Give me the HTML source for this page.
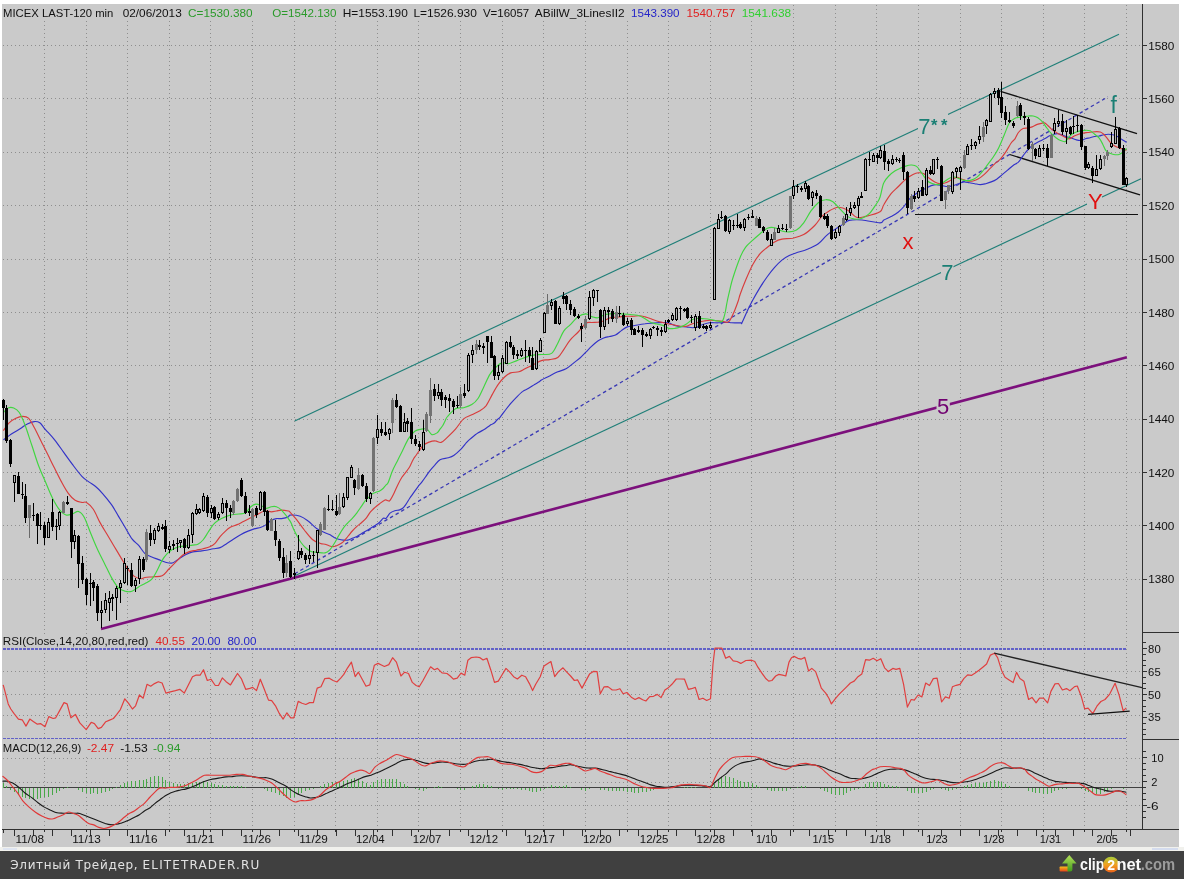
<!DOCTYPE html><html><head><meta charset="utf-8"><title>MICEX LAST-120 min</title><style>
html,body{margin:0;padding:0;background:#fff;overflow:hidden;width:1184px;height:879px}
svg{position:absolute;left:0;top:0;display:block}
text{font-family:"Liberation Sans",Arial,sans-serif;font-size:11px}
.ft{font-family:"DejaVu Sans","Liberation Sans",sans-serif}
</style></head><body>
<svg width="1184" height="879" viewBox="0 0 1184 879">
<rect x="0" y="0" width="1184" height="879" fill="#fff"/>
<rect x="2" y="4" width="1177" height="843" fill="#cacaca"/>
<g shape-rendering="crispEdges" stroke="#8e8e8e" stroke-width="1" stroke-dasharray="1 3" fill="none">
<line x1="44.5" y1="5" x2="44.5" y2="829"/>
<line x1="86.5" y1="5" x2="86.5" y2="829"/>
<line x1="127.5" y1="5" x2="127.5" y2="829"/>
<line x1="169.5" y1="5" x2="169.5" y2="829"/>
<line x1="210.5" y1="5" x2="210.5" y2="829"/>
<line x1="252.5" y1="5" x2="252.5" y2="829"/>
<line x1="294.5" y1="5" x2="294.5" y2="829"/>
<line x1="335.5" y1="5" x2="335.5" y2="829"/>
<line x1="377.5" y1="5" x2="377.5" y2="829"/>
<line x1="418.5" y1="5" x2="418.5" y2="829"/>
<line x1="460.5" y1="5" x2="460.5" y2="829"/>
<line x1="502.5" y1="5" x2="502.5" y2="829"/>
<line x1="543.5" y1="5" x2="543.5" y2="829"/>
<line x1="585.5" y1="5" x2="585.5" y2="829"/>
<line x1="627.5" y1="5" x2="627.5" y2="829"/>
<line x1="668.5" y1="5" x2="668.5" y2="829"/>
<line x1="710.5" y1="5" x2="710.5" y2="829"/>
<line x1="751.5" y1="5" x2="751.5" y2="829"/>
<line x1="793.5" y1="5" x2="793.5" y2="829"/>
<line x1="835.5" y1="5" x2="835.5" y2="829"/>
<line x1="876.5" y1="5" x2="876.5" y2="829"/>
<line x1="918.5" y1="5" x2="918.5" y2="829"/>
<line x1="960.5" y1="5" x2="960.5" y2="829"/>
<line x1="1001.5" y1="5" x2="1001.5" y2="829"/>
<line x1="1043.5" y1="5" x2="1043.5" y2="829"/>
<line x1="1084.5" y1="5" x2="1084.5" y2="829"/>
<line x1="1126.5" y1="5" x2="1126.5" y2="829"/>
<line x1="3" y1="45.5" x2="1142" y2="45.5"/>
<line x1="3" y1="98.5" x2="1142" y2="98.5"/>
<line x1="3" y1="152.5" x2="1142" y2="152.5"/>
<line x1="3" y1="205.5" x2="1142" y2="205.5"/>
<line x1="3" y1="259.5" x2="1142" y2="259.5"/>
<line x1="3" y1="312.5" x2="1142" y2="312.5"/>
<line x1="3" y1="365.5" x2="1142" y2="365.5"/>
<line x1="3" y1="419.5" x2="1142" y2="419.5"/>
<line x1="3" y1="472.5" x2="1142" y2="472.5"/>
<line x1="3" y1="525.5" x2="1142" y2="525.5"/>
<line x1="3" y1="579.5" x2="1142" y2="579.5"/>
<line x1="3" y1="671.5" x2="1142" y2="671.5"/>
<line x1="3" y1="694.5" x2="1142" y2="694.5"/>
<line x1="3" y1="715.5" x2="1142" y2="715.5"/>
<line x1="3" y1="758.5" x2="1142" y2="758.5"/>
<line x1="3" y1="782.5" x2="1142" y2="782.5"/>
<line x1="3" y1="805.5" x2="1142" y2="805.5"/>
</g>
<g shape-rendering="crispEdges" stroke="#6262c8" stroke-width="1.8" stroke-dasharray="3 1" fill="none">
<line x1="3" y1="649" x2="1127" y2="649"/>
<line x1="3" y1="738.5" x2="1127" y2="738.5"/>
</g>
<line x1="3" y1="787.5" x2="1142" y2="787.5" stroke="#404040" stroke-width="1.6" shape-rendering="crispEdges"/>
<path d="M3.5 787.5V782.9M6.5 787.5V786.2M10.5 787.5V789.5M14.5 787.5V792.3M18.5 787.5V794.5M22.5 787.5V796.9M25.5 787.5V797.8M29.5 787.5V798.8M33.5 787.5V799.1M37.5 787.5V798.7M40.5 787.5V798.2M44.5 787.5V797.4M48.5 787.5V796.9M52.5 787.5V795.3M56.5 787.5V792.7M59.5 787.5V790.6M63.5 787.5V788.9M67.5 787.5V786.8M74.5 787.5V788.4M78.5 787.5V789.6M82.5 787.5V791.8M86.5 787.5V793.3M90.5 787.5V793.8M93.5 787.5V793.3M97.5 787.5V793.7M101.5 787.5V793.4M105.5 787.5V792.3M109.5 787.5V790.6M112.5 787.5V788.7M116.5 787.5V786.6M120.5 787.5V784.8M124.5 787.5V782.8M127.5 787.5V781.5M131.5 787.5V781.2M135.5 787.5V780.9M139.5 787.5V779.9M143.5 787.5V779.8M146.5 787.5V778.5M150.5 787.5V776.7M154.5 787.5V776.2M158.5 787.5V775.8M162.5 787.5V777.4M165.5 787.5V780.1M169.5 787.5V781.5M173.5 787.5V782.9M177.5 787.5V783.9M180.5 787.5V784.3M184.5 787.5V784.0M188.5 787.5V783.4M192.5 787.5V782.9M196.5 787.5V782.4M199.5 787.5V781.9M203.5 787.5V781.3M207.5 787.5V782.1M211.5 787.5V783.3M214.5 787.5V783.9M218.5 787.5V784.6M222.5 787.5V785.2M226.5 787.5V785.8M230.5 787.5V785.9M233.5 787.5V785.9M237.5 787.5V786.0M241.5 787.5V786.1M245.5 787.5V786.6M260.5 787.5V788.2M264.5 787.5V789.4M267.5 787.5V790.6M271.5 787.5V791.5M275.5 787.5V792.9M279.5 787.5V794.7M283.5 787.5V796.4M286.5 787.5V797.7M290.5 787.5V797.6M294.5 787.5V797.1M298.5 787.5V794.6M301.5 787.5V792.6M305.5 787.5V791.3M309.5 787.5V789.9M313.5 787.5V788.7M320.5 787.5V785.9M324.5 787.5V784.1M328.5 787.5V783.1M332.5 787.5V782.4M336.5 787.5V781.8M339.5 787.5V781.6M343.5 787.5V780.8M347.5 787.5V779.7M351.5 787.5V778.6M354.5 787.5V778.4M358.5 787.5V779.0M362.5 787.5V780.5M366.5 787.5V782.9M370.5 787.5V785.2M373.5 787.5V781.9M377.5 787.5V780.2M381.5 787.5V779.3M385.5 787.5V779.3M389.5 787.5V778.9M392.5 787.5V778.6M396.5 787.5V778.7M400.5 787.5V781.6M404.5 787.5V784.0M407.5 787.5V785.8M415.5 787.5V788.7M419.5 787.5V789.9M423.5 787.5V790.6M426.5 787.5V789.4M434.5 787.5V786.7M438.5 787.5V786.3M441.5 787.5V786.5M453.5 787.5V788.4M457.5 787.5V789.3M460.5 787.5V789.7M464.5 787.5V789.6M472.5 787.5V785.9M476.5 787.5V784.9M479.5 787.5V784.4M483.5 787.5V784.4M487.5 787.5V784.5M491.5 787.5V786.2M498.5 787.5V789.1M502.5 787.5V789.6M506.5 787.5V789.4M510.5 787.5V789.2M513.5 787.5V789.0M517.5 787.5V789.2M521.5 787.5V789.7M525.5 787.5V789.9M529.5 787.5V791.0M532.5 787.5V791.9M536.5 787.5V791.9M540.5 787.5V790.7M544.5 787.5V788.9M547.5 787.5V786.6M551.5 787.5V785.4M555.5 787.5V786.4M559.5 787.5V786.1M563.5 787.5V785.7M566.5 787.5V785.4M570.5 787.5V786.8M578.5 787.5V788.3M581.5 787.5V789.7M585.5 787.5V790.5M589.5 787.5V789.3M593.5 787.5V788.3M597.5 787.5V788.4M600.5 787.5V789.5M604.5 787.5V790.0M608.5 787.5V790.5M612.5 787.5V790.9M616.5 787.5V791.3M619.5 787.5V791.3M623.5 787.5V791.3M627.5 787.5V791.5M631.5 787.5V792.0M634.5 787.5V792.5M638.5 787.5V792.6M642.5 787.5V792.4M646.5 787.5V791.8M650.5 787.5V790.9M653.5 787.5V790.1M657.5 787.5V789.4M661.5 787.5V788.9M665.5 787.5V788.4M668.5 787.5V788.4M672.5 787.5V788.2M684.5 787.5V786.8M687.5 787.5V786.7M691.5 787.5V786.7M695.5 787.5V786.9M714.5 787.5V783.6M718.5 787.5V779.3M721.5 787.5V777.3M725.5 787.5V776.1M729.5 787.5V776.6M733.5 787.5V777.9M737.5 787.5V779.5M740.5 787.5V780.9M744.5 787.5V781.7M748.5 787.5V782.4M752.5 787.5V783.3M756.5 787.5V784.6M759.5 787.5V786.6M767.5 787.5V789.5M771.5 787.5V790.8M774.5 787.5V790.9M778.5 787.5V791.0M782.5 787.5V791.0M786.5 787.5V790.9M790.5 787.5V788.8M797.5 787.5V786.6M801.5 787.5V785.9M805.5 787.5V786.0M820.5 787.5V788.9M824.5 787.5V790.6M827.5 787.5V792.4M831.5 787.5V794.1M835.5 787.5V795.1M839.5 787.5V795.3M843.5 787.5V794.6M846.5 787.5V793.0M850.5 787.5V791.4M854.5 787.5V790.2M858.5 787.5V788.6M861.5 787.5V786.9M865.5 787.5V784.2M869.5 787.5V782.3M873.5 787.5V781.6M877.5 787.5V782.0M880.5 787.5V782.3M884.5 787.5V783.5M888.5 787.5V784.5M892.5 787.5V785.5M896.5 787.5V786.3M899.5 787.5V786.7M907.5 787.5V790.8M911.5 787.5V792.5M914.5 787.5V793.2M918.5 787.5V793.3M922.5 787.5V793.2M926.5 787.5V791.8M930.5 787.5V790.4M933.5 787.5V789.0M941.5 787.5V789.1M945.5 787.5V790.4M948.5 787.5V790.7M952.5 787.5V789.8M956.5 787.5V788.7M964.5 787.5V785.8M967.5 787.5V784.5M971.5 787.5V783.6M975.5 787.5V783.3M979.5 787.5V782.9M983.5 787.5V782.5M986.5 787.5V781.8M990.5 787.5V780.5M994.5 787.5V780.2M998.5 787.5V780.7M1001.5 787.5V782.1M1005.5 787.5V783.9M1009.5 787.5V785.8M1028.5 787.5V790.9M1032.5 787.5V792.1M1035.5 787.5V793.1M1039.5 787.5V793.3M1043.5 787.5V794.0M1047.5 787.5V794.4M1051.5 787.5V792.9M1054.5 787.5V790.8M1058.5 787.5V789.9M1062.5 787.5V789.2M1066.5 787.5V788.6M1081.5 787.5V789.1M1085.5 787.5V790.7M1088.5 787.5V791.8M1092.5 787.5V793.2M1096.5 787.5V794.2M1100.5 787.5V793.6M1104.5 787.5V792.4M1107.5 787.5V790.7M1111.5 787.5V789.0M1123.5 787.5V788.6" stroke="#48a848" stroke-width="1" fill="none" shape-rendering="crispEdges"/>
<g fill="none" stroke-linecap="butt">
<line x1="294.7" y1="421" x2="1119" y2="34.2" stroke="#1f7f78" stroke-width="1.15"/>
<line x1="294.3" y1="576" x2="1141" y2="178.7" stroke="#1f7f78" stroke-width="1.15"/>
<line x1="294.7" y1="573.8" x2="1107.9" y2="96.8" stroke="#3838b4" stroke-width="1.3" stroke-dasharray="3.5 3"/>
<line x1="101" y1="628.9" x2="1126.9" y2="357.2" stroke="#7c107c" stroke-width="2.6"/>
<line x1="1000.5" y1="91.3" x2="1137" y2="133.6" stroke="#111" stroke-width="1.3"/>
<line x1="1009.7" y1="154.5" x2="1140" y2="194.8" stroke="#111" stroke-width="1.3"/>
<line x1="914.6" y1="214.5" x2="1137.5" y2="214.5" stroke="#111" stroke-width="1.3" shape-rendering="crispEdges"/>
</g>
<g fill="none" stroke-width="1.15" stroke-linejoin="round">
<path d="M3.4,439.8C4.7,438.9 8.6,436.0 11.4,434.1C14.2,432.2 17.9,430.2 20.5,428.5C23.1,426.8 25.0,425.0 27.3,423.9C29.6,422.8 32.0,421.8 34.1,421.6C36.2,421.4 37.9,421.5 39.8,422.8C41.7,424.1 43.0,426.8 45.5,429.6C48.0,432.4 51.6,436.0 54.6,439.8C57.6,443.6 60.7,448.2 63.7,452.4C66.7,456.6 69.8,460.9 72.8,464.9C75.8,468.9 79.2,473.5 81.9,476.3C84.6,479.1 86.5,480.2 88.8,481.9C91.1,483.6 93.3,484.6 95.6,486.5C97.9,488.4 99.8,490.3 102.4,493.3C105.1,496.3 108.8,500.9 111.5,504.7C114.2,508.5 116.1,512.3 118.4,516.1C120.7,519.9 122.9,523.7 125.2,527.5C127.5,531.3 129.7,535.9 132.0,538.9C134.3,541.9 136.7,543.2 138.9,545.7C141.1,548.2 142.8,551.7 145.0,553.6C147.2,555.5 149.5,556.0 151.8,557.0C154.1,558.0 156.4,558.7 158.7,559.6C161.0,560.5 163.2,561.6 165.5,562.2C167.8,562.8 170.0,563.6 172.3,563.0C174.6,562.4 176.8,560.1 179.1,558.7C181.4,557.3 183.7,555.6 186.0,554.5C188.3,553.4 190.5,552.5 192.8,551.9C195.1,551.3 197.3,551.4 199.6,551.1C201.9,550.8 204.1,550.6 206.4,550.2C208.7,549.8 211.0,549.2 213.3,548.8C215.6,548.4 217.8,548.5 220.1,547.6C222.4,546.7 224.6,544.8 226.9,543.4C229.2,542.0 231.4,540.5 233.7,539.1C236.0,537.7 238.3,536.1 240.6,534.8C242.9,533.5 245.1,532.4 247.4,531.4C249.7,530.4 251.9,529.6 254.2,528.9C256.5,528.2 259.0,527.9 261.0,527.2C263.0,526.5 264.5,525.8 266.2,524.6C267.9,523.5 269.6,521.3 271.3,520.3C273.0,519.3 274.7,518.9 276.4,518.6C278.1,518.3 279.5,518.9 281.5,518.6C283.5,518.3 286.9,517.5 288.3,516.9C289.7,516.3 288.0,515.2 290.0,515.1C292.0,515.0 297.1,515.2 300.2,516.2C303.3,517.2 305.7,519.2 308.4,521.3C311.1,523.3 313.8,526.6 316.6,528.5C319.4,530.4 322.8,531.8 325.0,532.8C327.2,533.8 328.1,533.8 329.6,534.6C331.1,535.4 332.6,536.6 334.1,537.4C335.6,538.2 337.2,538.8 338.7,539.2C340.2,539.7 341.7,540.0 343.2,540.1C344.7,540.2 346.3,540.4 347.8,540.1C349.3,539.8 350.8,538.9 352.3,538.3C353.8,537.7 355.4,537.3 356.9,536.5C358.4,535.7 359.9,534.6 361.4,533.7C362.9,532.8 364.5,531.9 366.0,531.0C367.5,530.1 369.0,529.2 370.5,528.3C372.0,527.4 373.6,526.5 375.1,525.5C376.6,524.5 378.2,523.5 379.6,522.3C381.0,521.1 382.2,519.0 383.3,518.3C384.4,517.6 385.1,519.1 386.2,518.2C387.3,517.3 388.6,514.4 390.0,513.1C391.4,511.9 393.2,511.2 394.8,510.7C396.4,510.2 398.3,510.3 399.6,509.9C400.9,509.5 401.6,509.2 402.7,508.3C403.8,507.4 404.7,506.1 405.9,504.4C407.1,502.7 408.6,500.0 409.9,498.0C411.2,496.0 412.6,494.3 413.9,492.4C415.2,490.5 416.6,488.5 417.9,486.8C419.2,485.1 420.5,483.8 421.8,482.1C423.1,480.4 424.5,478.4 425.8,476.5C427.1,474.6 428.3,472.8 429.8,470.9C431.3,469.0 432.9,467.2 434.6,465.4C436.3,463.5 437.7,461.1 440.0,459.8C442.3,458.5 445.9,458.5 448.2,457.8C450.5,457.1 451.6,456.9 453.7,455.5C455.8,454.1 458.9,451.2 461.0,449.1C463.1,447.0 464.9,444.4 466.4,442.7C467.9,441.0 468.0,440.8 470.0,439.1C472.0,437.5 475.8,434.4 478.2,432.8C480.6,431.2 482.6,430.5 484.1,429.6C485.6,428.7 486.1,428.1 487.3,427.3C488.5,426.5 490.0,425.4 491.2,424.6C492.4,423.9 493.6,423.7 494.6,422.8C495.6,421.9 496.5,420.4 497.4,419.5C498.3,418.6 498.6,418.9 500.0,417.3C501.4,415.7 503.7,412.4 505.5,410.0C507.3,407.6 509.2,405.3 511.0,403.2C512.8,401.1 514.4,399.3 516.4,397.3C518.4,395.3 520.8,392.8 522.8,391.4C524.8,389.9 526.2,389.8 528.2,388.6C530.2,387.5 532.8,385.6 534.6,384.5C536.4,383.4 538.1,382.6 539.2,381.8C540.3,381.1 539.7,381.0 541.4,380.0C543.1,379.0 546.9,377.3 549.6,375.9C552.3,374.5 555.1,373.0 557.8,371.8C560.5,370.6 563.3,370.3 566.0,368.8C568.7,367.3 571.8,364.4 574.1,362.6C576.4,360.8 578.0,359.8 580.0,358.0C582.0,356.2 583.9,354.1 585.9,352.1C587.9,350.1 589.8,348.1 591.8,346.2C593.8,344.3 595.8,342.4 597.8,341.0C599.8,339.6 601.7,338.8 603.7,338.0C605.7,337.2 607.6,337.0 609.6,336.5C611.6,336.0 613.5,336.1 615.5,335.1C617.5,334.1 619.4,332.0 621.4,330.6C623.4,329.2 625.3,327.7 627.3,326.9C629.3,326.1 631.3,326.1 633.3,325.7C635.3,325.3 637.2,325.0 639.2,324.7C641.2,324.4 643.1,323.9 645.1,323.7C647.1,323.4 649.0,323.3 651.0,323.2C653.0,323.1 654.9,322.9 656.9,322.8C658.9,322.7 660.8,322.5 662.8,322.5C664.8,322.5 666.8,322.3 668.8,322.8C670.8,323.3 672.7,324.8 674.7,325.4C676.7,326.0 678.6,326.4 680.6,326.6C682.6,326.9 684.5,326.7 686.5,326.9C688.5,327.1 690.4,327.7 692.4,327.7C694.4,327.7 697.0,327.3 698.3,326.9C699.6,326.5 698.2,326.2 700.0,325.5C701.8,324.8 706.1,323.2 709.1,322.8C712.1,322.4 715.2,322.9 718.2,322.8C721.2,322.7 725.0,322.3 727.3,322.3C729.6,322.3 729.5,322.7 731.8,322.8C734.1,322.9 739.2,322.8 740.9,322.8C742.6,322.8 740.8,324.9 741.9,322.9C743.0,320.9 745.5,314.8 747.3,311.0C749.1,307.2 750.7,304.0 752.8,300.1C754.9,296.2 757.7,291.3 760.1,287.4C762.5,283.5 765.0,279.8 767.4,276.5C769.8,273.2 772.2,270.1 774.6,267.4C777.0,264.7 779.5,262.1 781.9,260.1C784.3,258.1 786.8,256.7 789.2,255.5C791.6,254.3 793.5,253.9 796.5,252.8C799.5,251.8 803.8,250.7 807.4,249.2C811.0,247.7 815.3,245.8 818.3,243.7C821.3,241.6 823.5,238.4 825.6,236.4C827.7,234.4 828.9,233.4 831.0,231.9C833.1,230.4 836.2,228.7 838.3,227.3C840.4,225.9 842.0,224.8 843.8,223.7C845.6,222.5 846.2,221.0 849.2,220.4C852.2,219.8 856.9,219.6 862.0,220.0C867.1,220.4 876.4,222.8 880.0,222.8C883.6,222.8 881.9,221.2 883.8,220.1C885.6,219.0 888.7,217.8 891.1,216.5C893.5,215.2 896.3,213.7 898.4,212.0C900.5,210.3 902.1,208.6 903.9,206.5C905.7,204.4 907.5,201.2 909.3,199.2C911.1,197.2 913.0,196.1 914.8,194.7C916.6,193.3 918.4,192.1 920.2,191.0C922.0,189.9 923.9,189.2 925.7,188.3C927.5,187.4 929.4,186.2 931.2,185.6C933.0,185.0 934.8,184.6 936.6,184.6C938.4,184.6 940.3,185.3 942.1,185.6C943.9,185.9 945.7,186.5 947.5,186.5C949.3,186.5 951.2,186.1 953.0,185.6C954.8,185.1 956.7,184.3 958.5,183.7C960.3,183.1 962.1,182.1 963.9,181.9C965.7,181.8 967.6,182.5 969.4,182.8C971.2,183.1 973.0,183.4 974.8,183.7C976.6,184.0 978.5,184.6 980.3,184.6C982.1,184.6 984.0,184.1 985.8,183.7C987.6,183.2 989.4,182.7 991.2,181.9C993.0,181.2 994.9,180.4 996.7,179.2C998.5,178.0 1000.4,176.1 1002.2,174.6C1004.0,173.1 1005.8,171.6 1007.6,170.1C1009.4,168.6 1011.3,166.8 1013.1,165.5C1014.9,164.2 1017.0,163.4 1018.4,162.1C1019.8,160.8 1020.7,159.1 1021.8,157.6C1022.9,156.1 1024.0,154.4 1025.2,153.0C1026.4,151.6 1027.6,150.2 1028.7,149.0C1029.8,147.8 1031.0,146.5 1032.1,145.6C1033.2,144.7 1034.2,144.2 1035.5,143.4C1036.8,142.7 1038.5,141.9 1040.0,141.1C1041.5,140.3 1043.1,139.7 1044.6,138.8C1046.1,138.0 1047.6,136.8 1049.1,136.0C1050.6,135.2 1052.2,134.6 1053.7,134.2C1055.2,133.8 1056.7,133.5 1058.2,133.7C1059.7,133.9 1061.3,134.8 1062.8,135.4C1064.3,136.0 1065.8,136.6 1067.3,137.1C1068.8,137.6 1070.4,137.7 1071.9,138.2C1073.4,138.7 1074.9,139.5 1076.4,139.9C1077.9,140.3 1079.5,140.7 1081.0,140.5C1082.5,140.3 1084.0,139.3 1085.5,138.8C1087.0,138.3 1088.6,138.1 1090.1,137.7C1091.6,137.3 1093.1,136.8 1094.6,136.5C1096.1,136.2 1097.7,136.3 1099.2,136.0C1100.7,135.7 1102.2,135.1 1103.7,134.8C1105.2,134.5 1106.8,134.2 1108.3,134.2C1109.8,134.2 1111.3,134.4 1112.8,134.8C1114.3,135.2 1115.9,135.7 1117.4,136.5C1118.9,137.3 1120.4,138.4 1121.9,139.4C1123.4,140.4 1125.7,142.0 1126.5,142.5" stroke="#3232c8"/>
<path d="M3.4,430.7C4.3,429.4 7.0,424.9 9.1,422.8C11.2,420.7 13.6,419.3 15.9,418.2C18.2,417.1 20.7,416.4 22.8,416.4C24.9,416.4 26.6,416.4 28.5,418.2C30.4,420.0 32.0,423.5 34.1,427.3C36.2,431.1 38.7,436.4 41.0,441.0C43.3,445.6 45.5,450.1 47.8,454.6C50.1,459.2 52.3,463.8 54.6,468.3C56.9,472.9 59.2,477.7 61.5,481.9C63.8,486.1 66.0,490.2 68.3,493.3C70.6,496.4 72.8,498.7 75.1,500.2C77.4,501.7 80.0,502.0 81.9,502.4C83.8,502.8 84.6,501.2 86.5,502.4C88.4,503.5 91.0,505.9 93.3,509.3C95.6,512.7 97.9,518.7 100.2,522.9C102.5,527.1 104.7,530.5 107.0,534.3C109.3,538.1 111.5,541.9 113.8,545.7C116.1,549.5 118.3,553.3 120.6,557.1C122.9,560.9 125.2,565.2 127.5,568.4C129.8,571.6 132.0,574.7 134.3,576.4C136.6,578.1 139.3,578.5 141.1,578.7C142.9,578.9 142.9,577.8 145.0,577.5C147.1,577.2 150.7,577.0 153.5,576.7C156.3,576.4 159.5,577.1 162.1,575.8C164.7,574.5 166.6,571.3 168.9,569.0C171.2,566.7 173.4,564.5 175.7,562.2C178.0,559.9 180.2,557.1 182.5,555.3C184.8,553.5 187.1,552.5 189.4,551.6C191.7,550.8 193.9,550.7 196.2,550.2C198.5,549.7 200.7,549.4 203.0,548.8C205.3,548.2 207.8,547.7 209.8,546.8C211.8,545.9 213.3,545.1 215.0,543.4C216.7,541.7 218.4,538.6 220.1,536.6C221.8,534.6 223.5,533.0 225.2,531.4C226.9,529.8 228.3,528.3 230.3,527.2C232.3,526.1 234.9,525.6 237.2,524.6C239.5,523.6 241.7,522.3 244.0,521.2C246.3,520.1 248.5,518.9 250.8,517.8C253.1,516.7 255.3,515.5 257.6,514.4C259.9,513.3 262.2,511.4 264.5,511.0C266.8,510.6 269.3,511.8 271.3,511.8C273.3,511.8 274.7,511.3 276.4,511.0C278.1,510.7 279.5,510.1 281.5,510.1C283.5,510.1 286.9,510.7 288.3,511.0C289.7,511.3 288.7,510.7 290.0,512.1C291.3,513.5 293.8,516.2 296.2,519.2C298.6,522.2 301.6,526.6 304.3,530.0C307.0,533.4 309.7,537.2 312.4,539.5C315.1,541.8 318.4,542.7 320.5,543.5C322.6,544.3 323.5,543.8 325.0,544.2C326.5,544.6 328.1,545.6 329.6,546.0C331.1,546.4 332.6,546.7 334.1,546.5C335.6,546.3 337.2,545.5 338.7,544.7C340.2,543.9 341.7,543.3 343.2,541.9C344.7,540.5 346.3,538.3 347.8,536.5C349.3,534.7 350.8,532.7 352.3,531.0C353.8,529.3 355.4,527.8 356.9,526.4C358.4,525.0 359.9,524.1 361.4,522.8C362.9,521.4 364.5,520.1 366.0,518.3C367.5,516.5 369.0,513.7 370.5,511.9C372.0,510.1 373.6,508.7 375.1,507.3C376.6,505.9 378.0,504.9 379.6,503.7C381.2,502.5 383.6,500.5 385.0,500.0C386.4,499.5 387.4,500.7 388.2,500.8C389.0,500.9 389.0,501.7 390.0,500.4C391.0,499.1 392.7,495.8 394.0,493.2C395.3,490.6 396.7,487.1 398.0,484.5C399.3,481.9 400.6,479.4 401.9,477.3C403.2,475.2 404.7,473.7 405.9,472.1C407.1,470.5 408.2,469.2 409.1,467.7C410.0,466.2 410.7,464.6 411.5,463.0C412.3,461.4 413.1,459.5 413.9,458.2C414.7,456.9 414.8,457.1 416.3,455.0C417.8,452.9 420.9,447.8 423.0,445.6C425.1,443.5 427.1,442.9 429.1,442.1C431.2,441.3 433.3,440.8 435.3,440.9C437.3,440.9 439.1,443.0 441.1,442.4C443.1,441.8 444.9,439.5 447.3,437.3C449.7,435.1 452.8,432.2 455.5,429.1C458.2,426.0 460.9,421.3 463.6,418.9C466.3,416.5 469.1,416.2 471.8,414.8C474.5,413.4 477.6,412.2 480.0,410.7C482.4,409.2 484.1,408.3 486.2,405.6C488.2,402.9 490.3,398.0 492.3,394.4C494.3,390.8 496.3,387.0 498.4,384.1C500.4,381.2 502.6,378.9 504.6,377.0C506.7,375.1 508.3,373.8 510.7,372.9C513.1,372.0 516.5,372.5 518.9,371.8C521.3,371.1 522.6,370.0 525.0,368.8C527.4,367.6 530.5,366.1 533.2,364.7C535.9,363.3 538.7,361.5 541.4,360.6C544.1,359.8 546.9,360.1 549.6,359.6C552.3,359.1 555.4,359.2 557.8,357.5C560.2,355.8 561.8,352.2 563.9,349.3C566.0,346.4 567.7,343.0 570.1,340.1C572.5,337.2 575.6,334.8 578.2,332.0C580.8,329.2 583.6,324.8 585.9,323.2C588.2,321.6 589.8,322.7 591.8,322.5C593.8,322.3 595.8,322.4 597.8,322.2C599.8,321.9 601.7,321.7 603.7,321.0C605.7,320.3 607.6,318.6 609.6,318.0C611.6,317.4 613.5,317.5 615.5,317.3C617.5,317.1 619.4,316.8 621.4,316.6C623.4,316.4 625.3,316.4 627.3,316.3C629.3,316.2 631.3,316.4 633.3,316.3C635.3,316.2 637.2,315.7 639.2,315.8C641.2,315.9 643.1,316.4 645.1,316.9C647.1,317.4 649.0,318.1 651.0,318.8C653.0,319.5 654.9,320.4 656.9,321.0C658.9,321.6 660.8,322.0 662.8,322.5C664.8,323.0 666.8,323.6 668.8,324.0C670.8,324.4 672.7,324.7 674.7,325.1C676.7,325.5 678.6,326.0 680.6,326.2C682.6,326.4 684.5,326.6 686.5,326.2C688.5,325.8 690.4,324.4 692.4,323.7C694.4,323.0 696.3,322.6 698.3,322.2C700.3,321.8 702.3,321.3 704.3,321.0C706.3,320.7 708.2,320.4 710.2,320.3C712.2,320.2 714.3,320.6 716.1,320.7C717.9,320.8 719.2,320.8 721.1,321.1C723.0,321.4 725.8,322.5 727.3,322.3C728.8,322.1 728.9,321.7 730.0,320.1C731.1,318.5 732.3,316.0 733.7,312.8C735.1,309.6 737.1,304.1 738.2,301.0C739.3,297.9 738.9,297.9 740.1,294.5C741.3,291.1 743.4,285.5 745.5,280.5C747.6,275.5 750.4,269.0 752.8,264.5C755.2,260.0 757.7,256.6 760.1,253.7C762.5,250.8 765.0,249.3 767.4,247.3C769.8,245.3 772.2,243.3 774.6,241.9C777.0,240.5 778.9,239.7 781.9,239.1C784.9,238.5 789.2,238.9 792.8,238.2C796.4,237.4 800.1,236.7 803.7,234.6C807.4,232.5 811.7,228.5 814.7,225.5C817.7,222.5 819.5,218.8 821.9,216.4C824.3,214.0 826.5,212.4 829.2,210.9C831.9,209.4 835.3,207.5 838.3,207.3C841.3,207.2 844.4,208.3 847.4,210.0C850.4,211.7 853.5,216.2 856.5,217.3C859.5,218.4 861.7,217.3 865.6,216.4C869.5,215.5 877.0,213.8 880.0,211.8C883.0,209.9 881.9,207.7 883.8,204.7C885.6,201.7 888.7,196.7 891.1,193.7C893.5,190.7 896.0,188.9 898.4,186.5C900.8,184.1 903.3,181.2 905.7,179.2C908.1,177.2 910.9,175.7 913.0,174.6C915.1,173.5 916.6,173.0 918.4,172.8C920.2,172.7 922.1,172.8 923.9,173.7C925.7,174.6 927.5,176.9 929.3,178.3C931.1,179.7 933.0,181.0 934.8,181.9C936.6,182.8 938.5,183.5 940.3,183.7C942.1,183.8 943.9,183.4 945.7,182.8C947.5,182.2 949.4,181.0 951.2,180.1C953.0,179.2 954.8,177.6 956.6,177.4C958.4,177.2 960.3,178.6 962.1,179.2C963.9,179.8 965.8,180.7 967.6,181.0C969.4,181.3 971.2,181.4 973.0,181.0C974.8,180.6 976.7,179.9 978.5,178.8C980.3,177.7 982.2,176.2 984.0,174.6C985.8,173.0 987.6,171.0 989.4,169.2C991.2,167.4 993.1,165.4 994.9,163.7C996.7,162.0 998.5,161.2 1000.3,159.2C1002.1,157.2 1004.0,154.6 1005.8,151.9C1007.6,149.2 1009.8,145.0 1011.3,142.8C1012.8,140.6 1013.8,140.5 1015.0,138.8C1016.2,137.1 1017.1,134.2 1018.4,132.5C1019.7,130.8 1021.5,129.3 1023.0,128.6C1024.5,127.8 1026.0,128.3 1027.5,128.0C1029.0,127.7 1030.6,127.5 1032.1,126.9C1033.6,126.3 1035.1,125.2 1036.6,124.6C1038.1,124.0 1039.9,123.7 1041.2,123.4C1042.5,123.1 1043.5,122.5 1044.6,122.9C1045.7,123.3 1046.9,124.7 1048.0,125.7C1049.1,126.7 1050.3,128.2 1051.4,129.1C1052.5,130.0 1053.7,130.6 1054.8,131.4C1055.9,132.2 1056.9,132.9 1058.2,133.7C1059.5,134.5 1061.5,135.3 1062.8,136.0C1064.1,136.7 1065.1,137.2 1066.2,137.7C1067.3,138.2 1068.3,139.1 1069.6,138.8C1070.9,138.5 1072.7,136.8 1074.2,136.0C1075.7,135.2 1077.2,134.7 1078.7,134.2C1080.2,133.7 1081.8,133.4 1083.3,133.1C1084.8,132.8 1086.3,132.7 1087.8,132.5C1089.3,132.3 1090.9,132.2 1092.4,132.0C1093.9,131.8 1095.6,131.6 1096.9,131.6C1098.2,131.6 1099.2,131.6 1100.3,132.0C1101.4,132.4 1102.6,133.2 1103.7,134.2C1104.8,135.2 1105.9,136.8 1107.1,138.2C1108.2,139.6 1109.4,141.6 1110.6,142.8C1111.8,144.0 1112.9,144.8 1114.0,145.6C1115.1,146.3 1116.3,146.8 1117.4,147.3C1118.5,147.8 1119.7,148.1 1120.8,148.5C1121.9,148.9 1123.2,149.3 1124.2,149.6C1125.2,149.9 1126.1,150.1 1126.5,150.2" stroke="#d83c3c"/>
<path d="M3.4,412.5C4.2,411.8 6.3,408.8 8.0,408.0C9.7,407.2 11.8,407.2 13.7,408.0C15.6,408.8 17.4,409.7 19.3,412.5C21.2,415.3 22.9,419.5 25.0,425.0C27.1,430.5 29.6,438.7 31.9,445.5C34.2,452.3 36.4,459.9 38.7,466.0C41.0,472.1 43.2,476.7 45.5,482.0C47.8,487.3 50.1,493.3 52.4,497.9C54.7,502.4 56.9,506.4 59.2,509.3C61.5,512.1 63.7,514.2 66.0,515.0C68.3,515.8 70.7,514.4 72.8,513.8C74.9,513.2 76.6,510.9 78.5,511.5C80.4,512.1 82.1,513.4 84.2,517.2C86.3,521.0 88.8,528.8 91.1,534.3C93.4,539.8 95.6,545.3 97.9,550.2C100.2,555.1 102.4,559.3 104.7,563.9C107.0,568.5 109.2,573.6 111.5,577.6C113.8,581.6 116.1,585.5 118.4,587.8C120.7,590.1 122.9,590.6 125.2,591.2C127.5,591.8 129.7,592.0 132.0,591.2C134.3,590.5 136.7,588.0 138.9,586.7C141.1,585.4 142.8,584.8 145.0,583.5C147.2,582.2 149.8,581.3 151.8,579.2C153.8,577.1 155.3,573.8 157.0,570.7C158.7,567.6 160.4,563.2 162.1,560.4C163.8,557.5 165.5,555.4 167.2,553.6C168.9,551.8 170.3,550.5 172.3,549.4C174.3,548.3 176.8,547.4 179.1,546.8C181.4,546.2 183.7,546.2 186.0,545.9C188.3,545.6 190.8,545.4 192.8,545.1C194.8,544.8 196.2,545.1 197.9,544.2C199.6,543.4 201.3,542.0 203.0,540.0C204.7,538.0 206.4,534.9 208.1,532.3C209.8,529.7 211.6,526.6 213.3,524.6C215.0,522.6 216.4,521.6 218.4,520.3C220.4,519.0 222.9,517.8 225.2,516.9C227.5,516.0 229.7,515.2 232.0,514.7C234.3,514.2 236.6,514.3 238.9,514.0C241.2,513.7 243.7,513.9 245.7,512.7C247.7,511.5 249.1,508.1 250.8,506.7C252.5,505.3 254.2,504.3 255.9,504.1C257.6,503.9 259.3,504.8 261.0,505.5C262.7,506.2 264.5,508.2 266.2,508.4C267.9,508.6 269.6,507.0 271.3,506.7C273.0,506.4 274.7,506.1 276.4,506.7C278.1,507.3 279.2,507.7 281.5,510.1C283.8,512.5 288.1,518.0 290.1,521.1C292.1,524.2 292.3,526.4 293.5,529.0C294.7,531.6 296.1,534.2 297.4,536.5C298.6,538.8 299.6,540.6 301.0,542.5C302.4,544.4 303.9,546.3 305.6,547.8C307.3,549.3 309.1,550.8 311.0,551.5C312.9,552.2 314.9,552.1 317.2,552.3C319.5,552.5 322.9,553.3 325.0,552.9C327.1,552.5 328.1,551.6 329.6,550.1C331.1,548.6 332.6,546.2 334.1,543.8C335.6,541.4 337.2,538.2 338.7,535.6C340.2,533.0 341.7,530.4 343.2,528.3C344.7,526.2 346.3,524.5 347.8,522.8C349.3,521.1 350.8,520.0 352.3,518.3C353.8,516.6 355.4,514.8 356.9,512.8C358.4,510.8 360.0,508.4 361.4,506.4C362.8,504.4 363.9,502.4 365.1,500.9C366.3,499.4 367.5,498.5 368.7,497.3C369.9,496.1 371.2,494.5 372.4,493.7C373.6,492.9 374.8,492.8 376.0,492.3C377.2,491.8 378.4,491.6 379.6,490.9C380.8,490.2 382.3,489.1 383.3,488.2C384.3,487.3 384.7,486.5 385.5,485.5C386.3,484.5 387.1,484.8 388.2,482.4C389.3,480.0 390.8,474.8 392.3,471.2C393.8,467.6 395.7,464.3 397.4,460.9C399.1,457.5 400.6,454.4 402.5,450.7C404.4,446.9 406.6,441.6 408.7,438.4C410.8,435.2 412.8,432.8 414.8,431.3C416.9,429.8 418.9,429.6 421.0,429.2C423.1,428.8 425.3,428.3 427.1,429.2C428.9,430.1 430.2,434.0 431.9,434.6C433.6,435.2 435.9,433.6 437.3,432.7C438.7,431.8 439.1,430.3 440.0,429.1C440.9,427.9 441.9,426.9 442.8,425.5C443.7,424.1 444.3,422.4 445.1,420.9C445.9,419.4 445.8,418.5 447.5,416.5C449.2,414.5 452.8,410.2 455.5,408.7C458.2,407.2 460.9,408.4 463.6,407.7C466.3,407.0 469.4,406.1 471.8,404.6C474.2,403.1 475.9,401.6 478.0,398.5C480.1,395.4 482.1,390.3 484.1,386.2C486.1,382.1 488.1,377.1 490.2,373.9C492.2,370.6 494.3,368.6 496.4,366.7C498.4,364.8 500.4,363.1 502.5,362.6C504.6,362.1 506.3,364.0 508.7,363.7C511.1,363.4 514.2,361.6 516.9,360.6C519.6,359.6 522.3,358.4 525.0,357.5C527.7,356.6 530.5,355.6 533.2,355.1C535.9,354.6 538.3,354.8 541.4,354.5C544.5,354.2 548.9,355.3 551.6,353.4C554.3,351.5 555.8,346.9 557.8,343.2C559.8,339.4 561.8,334.0 563.9,330.9C566.0,327.8 567.7,327.2 570.1,324.8C572.5,322.4 575.6,318.4 578.2,316.6C580.8,314.8 583.6,313.9 585.9,313.9C588.2,313.9 589.8,316.0 591.8,316.6C593.8,317.2 595.8,318.1 597.8,317.8C599.8,317.6 601.7,315.8 603.7,315.1C605.7,314.5 607.6,314.2 609.6,313.9C611.6,313.6 613.5,313.3 615.5,313.3C617.5,313.3 619.4,313.7 621.4,313.9C623.4,314.1 625.3,314.1 627.3,314.3C629.3,314.5 631.3,314.6 633.3,314.8C635.3,315.1 637.2,315.1 639.2,315.8C641.2,316.5 643.1,317.7 645.1,318.8C647.1,319.9 649.0,321.6 651.0,322.5C653.0,323.4 654.9,323.5 656.9,324.0C658.9,324.5 660.8,324.7 662.8,325.4C664.8,326.1 666.8,327.9 668.8,328.4C670.8,328.9 672.7,328.6 674.7,328.4C676.7,328.1 678.6,327.6 680.6,326.9C682.6,326.2 684.5,325.2 686.5,324.0C688.5,322.8 690.4,320.4 692.4,319.5C694.4,318.6 696.3,318.4 698.3,318.3C700.3,318.2 702.3,318.6 704.3,318.8C706.3,319.0 708.2,319.2 710.2,319.5C712.2,319.8 714.6,320.4 716.1,320.7C717.6,321.0 718.3,320.9 719.3,321.1C720.2,321.3 721.1,322.4 721.8,321.9C722.5,321.4 723.1,320.0 723.7,318.2C724.3,316.4 724.9,313.9 725.5,311.0C726.1,308.1 726.5,304.6 727.3,301.0C728.0,297.4 729.1,292.9 730.0,289.1C730.9,285.3 731.1,283.5 732.8,278.2C734.5,272.9 738.0,262.6 740.1,257.5C742.2,252.3 743.4,250.2 745.5,247.3C747.6,244.4 750.4,242.4 752.8,240.1C755.2,237.8 757.7,235.7 760.1,233.7C762.5,231.7 765.0,229.2 767.4,228.2C769.8,227.2 772.2,227.2 774.6,227.7C777.0,228.2 779.5,230.3 781.9,231.0C784.3,231.7 786.8,232.1 789.2,231.9C791.6,231.7 794.1,231.5 796.5,230.0C798.9,228.5 801.3,226.0 803.7,222.8C806.1,219.6 808.6,214.2 811.0,210.9C813.4,207.6 815.9,204.6 818.3,202.7C820.7,200.8 823.2,199.8 825.6,199.7C828.0,199.5 830.5,200.2 832.9,201.8C835.3,203.4 837.7,206.7 840.1,209.1C842.5,211.5 845.0,214.7 847.4,216.4C849.8,218.1 852.3,218.8 854.7,219.1C857.1,219.4 859.6,219.1 862.0,218.2C864.4,217.3 866.9,216.1 869.3,213.7C871.7,211.3 874.7,206.4 876.5,203.7C878.3,201.0 878.8,200.8 880.0,197.3C881.2,193.8 882.2,186.4 883.8,182.8C885.3,179.2 887.5,177.5 889.3,175.5C891.1,173.5 893.0,172.2 894.8,171.0C896.6,169.8 898.4,169.1 900.2,168.3C902.0,167.5 903.9,166.7 905.7,166.1C907.5,165.5 909.3,164.9 911.1,165.0C912.9,165.1 914.8,165.0 916.6,166.4C918.4,167.8 920.3,171.3 922.1,173.7C923.9,176.1 925.7,179.3 927.5,181.0C929.3,182.7 931.2,183.1 933.0,183.7C934.8,184.3 936.6,184.9 938.4,184.6C940.2,184.3 942.1,182.9 943.9,181.9C945.7,180.9 947.6,179.1 949.4,178.3C951.2,177.5 953.0,176.8 954.8,177.0C956.6,177.2 958.5,178.6 960.3,179.2C962.1,179.8 963.9,180.4 965.7,180.6C967.5,180.8 969.4,180.6 971.2,180.1C973.0,179.6 974.9,178.8 976.7,177.4C978.5,176.0 980.3,174.0 982.1,171.9C983.9,169.8 985.8,167.0 987.6,164.6C989.4,162.2 991.3,160.0 993.1,157.3C994.9,154.6 996.7,151.8 998.5,148.2C1000.3,144.6 1002.2,139.7 1004.0,135.5C1005.8,131.3 1007.6,125.7 1009.4,122.8C1011.2,119.9 1013.3,119.2 1015.0,118.3C1016.7,117.4 1018.1,117.5 1019.6,117.2C1021.1,116.9 1022.6,116.8 1024.1,116.6C1025.6,116.4 1027.2,116.1 1028.7,116.0C1030.2,115.9 1031.7,115.7 1033.2,116.0C1034.7,116.3 1036.3,116.8 1037.8,117.8C1039.3,118.8 1040.8,120.0 1042.3,121.7C1043.8,123.4 1045.4,126.0 1046.9,128.0C1048.4,130.0 1049.9,132.1 1051.4,133.7C1052.9,135.3 1054.5,136.6 1056.0,137.7C1057.5,138.8 1059.0,139.8 1060.5,140.5C1062.0,141.2 1063.8,142.1 1065.1,141.6C1066.4,141.1 1067.4,138.9 1068.5,137.7C1069.6,136.5 1070.6,135.1 1071.9,134.2C1073.2,133.2 1074.9,132.6 1076.4,132.0C1077.9,131.4 1079.5,131.1 1081.0,130.8C1082.5,130.5 1084.0,130.3 1085.5,130.3C1087.0,130.3 1088.6,130.2 1090.1,130.8C1091.6,131.5 1093.1,133.0 1094.6,134.2C1096.1,135.4 1097.9,136.6 1099.2,138.2C1100.5,139.8 1101.5,141.8 1102.6,143.9C1103.7,146.0 1104.7,149.1 1106.0,150.7C1107.3,152.3 1109.1,152.9 1110.6,153.6C1112.1,154.3 1113.6,154.6 1115.1,154.7C1116.6,154.8 1118.4,154.7 1119.7,154.2C1121.0,153.7 1122.0,152.8 1123.1,151.9C1124.2,151.0 1125.9,149.1 1126.5,148.5" stroke="#40d640"/>
</g>
<path d="M3.5 399.0V420.0M6.5 405.0V443.0M10.5 439.0V467.0M14.5 475.0V502.0M18.5 472.0V494.0M22.5 482.0V499.0M25.5 484.0V523.0M33.5 503.0V521.0M37.5 513.0V544.0M40.5 512.0V530.0M44.5 522.0V545.0M48.5 518.0V538.0M52.5 499.0V531.0M56.5 519.0V540.0M59.5 511.0V530.0M67.5 496.0V505.0M71.5 508.0V558.0M74.5 530.0V549.0M78.5 535.0V588.0M82.5 556.0V584.0M86.5 578.0V605.0M90.5 573.0V606.0M93.5 580.0V601.0M97.5 584.0V621.0M101.5 601.0V628.0M105.5 593.0V613.0M109.5 591.0V621.0M112.5 594.0V611.0M116.5 586.0V620.0M120.5 580.0V603.0M124.5 558.0V584.0M127.5 566.0V585.0M131.5 563.0V587.0M135.5 578.0V592.0M139.5 556.0V584.0M143.5 557.0V572.0M150.5 525.0V546.0M154.5 528.0V544.0M158.5 523.0V532.0M162.5 524.0V530.0M165.5 520.0V552.0M169.5 541.0V553.0M173.5 540.0V550.0M177.5 538.0V552.0M180.5 540.0V548.0M184.5 538.0V554.0M188.5 529.0V549.0M192.5 512.0V543.0M196.5 504.0V515.0M199.5 508.0V514.0M203.5 493.0V512.0M207.5 495.0V517.0M211.5 505.0V518.0M214.5 506.0V520.0M218.5 512.0V520.0M222.5 498.0V514.0M226.5 500.0V521.0M230.5 505.0V518.0M241.5 478.0V497.0M245.5 492.0V514.0M249.5 505.0V516.0M256.5 506.0V518.0M260.5 491.0V511.0M264.5 491.0V516.0M267.5 510.0V531.0M275.5 520.0V546.0M279.5 539.0V561.0M283.5 548.0V578.0M290.5 551.0V578.0M294.5 568.0V579.0M298.5 535.0V560.0M301.5 548.0V558.0M305.5 553.0V564.0M309.5 545.0V564.0M313.5 551.0V562.0M317.5 530.0V568.0M328.5 495.0V511.0M332.5 500.0V511.0M336.5 495.0V516.0M343.5 493.0V508.0M347.5 477.0V500.0M351.5 465.0V478.0M354.5 479.0V495.0M362.5 474.0V487.0M366.5 483.0V502.0M370.5 492.0V504.0M377.5 415.0V444.0M381.5 422.0V436.0M385.5 422.0V436.0M389.5 428.0V440.0M396.5 394.0V408.0M400.5 405.0V432.0M404.5 413.0V432.0M407.5 418.0V432.0M411.5 408.0V444.0M415.5 435.0V446.0M419.5 441.0V451.0M423.5 420.0V451.0M434.5 384.0V401.0M438.5 384.0V399.0M441.5 389.0V406.0M445.5 395.0V408.0M449.5 394.0V412.0M453.5 399.0V414.0M457.5 396.0V408.0M464.5 384.0V398.0M468.5 353.0V392.0M472.5 345.0V363.0M479.5 340.0V350.0M483.5 343.0V354.0M487.5 336.0V363.0M491.5 336.0V358.0M494.5 355.0V380.0M498.5 365.0V380.0M502.5 355.0V373.0M506.5 341.0V364.0M510.5 336.0V348.0M513.5 345.0V359.0M517.5 350.0V359.0M521.5 348.0V357.0M525.5 340.0V362.0M529.5 347.0V363.0M532.5 347.0V370.0M536.5 350.0V370.0M540.5 338.0V352.0M544.5 312.0V333.0M551.5 299.0V310.0M555.5 300.0V324.0M559.5 306.0V325.0M563.5 292.0V304.0M566.5 295.0V310.0M570.5 300.0V315.0M574.5 307.0V317.0M578.5 314.0V319.0M581.5 323.0V342.0M589.5 291.0V320.0M593.5 289.0V306.0M597.5 290.0V302.0M600.5 309.0V338.0M604.5 307.0V330.0M608.5 307.0V324.0M612.5 309.0V322.0M619.5 306.0V317.0M623.5 313.0V326.0M627.5 318.0V326.0M631.5 318.0V335.0M634.5 328.0V335.0M638.5 326.0V333.0M642.5 328.0V347.0M646.5 332.0V337.0M650.5 328.0V339.0M653.5 326.0V329.0M657.5 326.0V336.0M661.5 327.0V336.0M665.5 320.0V333.0M668.5 319.0V323.0M672.5 313.0V321.0M676.5 307.0V321.0M680.5 306.0V320.0M684.5 308.0V312.0M687.5 307.0V319.0M691.5 315.0V323.0M695.5 314.0V331.0M699.5 311.0V329.0M703.5 324.0V329.0M706.5 325.0V331.0M710.5 322.0V329.0M714.5 227.0V300.0M718.5 214.0V229.0M721.5 211.0V219.0M725.5 215.0V232.0M729.5 219.0V234.0M733.5 220.0V230.0M737.5 214.0V228.0M740.5 222.0V229.0M744.5 218.0V231.0M748.5 214.0V220.0M752.5 210.0V218.0M759.5 217.0V228.0M763.5 226.0V233.0M767.5 230.0V241.0M771.5 234.0V246.0M778.5 225.0V233.0M782.5 224.0V230.0M786.5 224.0V232.0M793.5 180.0V199.0M797.5 184.0V193.0M801.5 186.0V192.0M805.5 181.0V192.0M808.5 185.0V200.0M812.5 191.0V206.0M816.5 190.0V199.0M820.5 195.0V218.0M824.5 213.0V220.0M827.5 214.0V228.0M831.5 225.0V240.0M835.5 229.0V239.0M839.5 225.0V236.0M846.5 207.0V221.0M850.5 202.0V216.0M854.5 202.0V209.0M858.5 196.0V218.0M861.5 192.0V198.0M865.5 158.0V191.0M869.5 152.0V166.0M873.5 153.0V162.0M877.5 153.0V164.0M880.5 146.0V159.0M884.5 145.0V170.0M888.5 159.0V171.0M892.5 155.0V165.0M896.5 157.0V162.0M899.5 158.0V163.0M903.5 152.0V180.0M907.5 171.0V214.0M914.5 191.0V202.0M918.5 188.0V199.0M922.5 180.0V196.0M926.5 168.0V196.0M930.5 166.0V175.0M933.5 159.0V175.0M937.5 157.0V169.0M941.5 165.0V201.0M952.5 171.0V194.0M956.5 167.0V178.0M960.5 166.0V190.0M967.5 144.0V155.0M971.5 139.0V150.0M975.5 141.0V149.0M979.5 126.0V144.0M986.5 119.0V134.0M990.5 93.0V122.0M994.5 88.0V98.0M998.5 88.0V105.0M1001.5 82.0V118.0M1005.5 106.0V125.0M1009.5 112.0V123.0M1013.5 121.0V128.0M1020.5 103.0V120.0M1024.5 112.0V125.0M1028.5 117.0V150.0M1035.5 148.0V159.0M1039.5 145.0V157.0M1043.5 144.0V151.0M1047.5 144.0V166.0M1054.5 118.0V134.0M1058.5 110.0V127.0M1062.5 114.0V135.0M1066.5 120.0V144.0M1070.5 126.0V135.0M1073.5 116.0V134.0M1077.5 115.0V132.0M1081.5 124.0V150.0M1085.5 146.0V170.0M1088.5 162.0V169.0M1092.5 166.0V183.0M1096.5 155.0V176.0M1100.5 155.0V170.0M1111.5 132.0V148.0M1115.5 117.0V144.0M1119.5 127.0V149.0M1123.5 145.0V185.0M1126.5 177.0V187.0" stroke="#000" stroke-width="1" fill="none" shape-rendering="crispEdges"/>
<path d="M29.5 505.0V538.0M63.5 501.0V513.0M146.5 529.0V562.0M233.5 500.0V515.0M237.5 488.0V502.0M252.5 508.0V527.0M271.5 518.0V531.0M286.5 555.0V577.0M320.5 522.0V536.0M324.5 507.0V530.0M339.5 493.0V515.0M358.5 468.0V490.0M373.5 437.0V492.0M392.5 398.0V433.0M426.5 412.0V432.0M430.5 378.0V423.0M460.5 387.0V408.0M476.5 340.0V354.0M547.5 294.0V314.0M585.5 316.0V329.0M616.5 306.0V323.0M756.5 216.0V226.0M774.5 228.0V240.0M790.5 196.0V229.0M843.5 216.0V226.0M911.5 194.0V210.0M945.5 191.0V209.0M948.5 185.0V194.0M964.5 150.0V169.0M983.5 122.0V142.0M1017.5 101.0V117.0M1032.5 142.0V161.0M1051.5 134.0V158.0M1104.5 155.0V166.0M1107.5 150.0V160.0" stroke="#6a6a6a" stroke-width="1" fill="none" shape-rendering="crispEdges"/>
<path d="M2 400h3v8h-3zM5 408h3v33h-3zM9 440h3v24h-3zM17 476h3v18h-3zM21 494h3v1h-3zM24 496h3v22h-3zM32 515h3v1h-3zM36 514h3v12h-3zM39 525h3v1h-3zM43 525h3v13h-3zM51 512h3v15h-3zM55 526h3v1h-3zM66 502h3v2h-3zM70 508h3v34h-3zM77 536h3v28h-3zM81 563h3v17h-3zM85 579h3v16h-3zM89 583h3v1h-3zM92 582h3v6h-3zM96 586h3v27h-3zM111 597h3v2h-3zM126 568h3v1h-3zM130 570h3v16h-3zM142 559h3v11h-3zM149 533h3v7h-3zM161 527h3v2h-3zM164 526h3v23h-3zM172 544h3v2h-3zM183 539h3v9h-3zM206 497h3v16h-3zM213 507h3v12h-3zM225 503h3v5h-3zM229 508h3v4h-3zM240 480h3v16h-3zM244 496h3v17h-3zM248 511h3v2h-3zM255 508h3v7h-3zM263 492h3v20h-3zM266 511h3v19h-3zM274 531h3v9h-3zM278 541h3v17h-3zM282 557h3v16h-3zM289 561h3v16h-3zM293 573h3v2h-3zM300 551h3v4h-3zM304 555h3v5h-3zM312 555h3v1h-3zM327 509h3v1h-3zM331 509h3v1h-3zM335 511h3v4h-3zM353 480h3v8h-3zM361 475h3v11h-3zM365 486h3v13h-3zM380 429h3v4h-3zM384 432h3v3h-3zM395 400h3v7h-3zM399 406h3v26h-3zM406 421h3v3h-3zM410 422h3v17h-3zM414 439h3v5h-3zM418 444h3v3h-3zM433 389h3v7h-3zM440 392h3v8h-3zM444 397h3v3h-3zM448 398h3v3h-3zM452 401h3v6h-3zM456 405h3v1h-3zM463 393h3v3h-3zM478 345h3v2h-3zM482 346h3v2h-3zM486 336h3v6h-3zM490 342h3v16h-3zM493 356h3v20h-3zM509 342h3v5h-3zM512 347h3v8h-3zM516 354h3v2h-3zM524 350h3v1h-3zM528 350h3v6h-3zM531 358h3v12h-3zM554 301h3v23h-3zM562 296h3v3h-3zM565 296h3v8h-3zM569 304h3v6h-3zM573 309h3v7h-3zM577 316h3v2h-3zM580 326h3v3h-3zM596 290h3v1h-3zM599 310h3v17h-3zM607 310h3v2h-3zM611 311h3v8h-3zM618 313h3v1h-3zM622 315h3v10h-3zM630 320h3v10h-3zM633 329h3v6h-3zM641 330h3v5h-3zM645 334h3v2h-3zM652 327h3v1h-3zM656 328h3v2h-3zM660 330h3v2h-3zM679 308h3v1h-3zM683 309h3v2h-3zM686 308h3v10h-3zM690 317h3v1h-3zM698 316h3v12h-3zM702 326h3v2h-3zM705 326h3v3h-3zM720 217h3v1h-3zM724 216h3v15h-3zM732 225h3v1h-3zM736 225h3v1h-3zM739 224h3v4h-3zM747 217h3v1h-3zM751 216h3v2h-3zM758 219h3v9h-3zM762 227h3v4h-3zM766 232h3v8h-3zM781 228h3v1h-3zM785 229h3v1h-3zM796 186h3v1h-3zM800 188h3v2h-3zM807 186h3v13h-3zM815 193h3v3h-3zM819 196h3v21h-3zM823 216h3v3h-3zM826 216h3v10h-3zM830 226h3v13h-3zM860 196h3v2h-3zM868 159h3v1h-3zM876 155h3v3h-3zM883 151h3v11h-3zM887 161h3v3h-3zM895 159h3v1h-3zM898 160h3v1h-3zM902 155h3v17h-3zM906 172h3v36h-3zM913 196h3v3h-3zM921 187h3v9h-3zM929 170h3v4h-3zM936 159h3v1h-3zM940 166h3v35h-3zM970 145h3v1h-3zM997 90h3v8h-3zM1000 97h3v16h-3zM1004 112h3v8h-3zM1008 120h3v2h-3zM1012 123h3v3h-3zM1019 105h3v11h-3zM1023 116h3v2h-3zM1027 119h3v30h-3zM1034 149h3v7h-3zM1042 148h3v1h-3zM1046 148h3v10h-3zM1061 121h3v11h-3zM1069 127h3v7h-3zM1072 126h3v1h-3zM1076 125h3v1h-3zM1080 125h3v22h-3zM1084 146h3v22h-3zM1091 168h3v8h-3zM1118 128h3v20h-3zM1122 148h3v37h-3z" fill="#000" shape-rendering="crispEdges"/>
<path d="M28 505h3v13h-3zM62 502h3v11h-3zM145 532h3v28h-3zM232 501h3v12h-3zM236 489h3v12h-3zM251 509h3v17h-3zM270 519h3v12h-3zM285 563h3v10h-3zM319 524h3v11h-3zM323 508h3v22h-3zM338 507h3v7h-3zM357 475h3v14h-3zM372 438h3v53h-3zM391 400h3v23h-3zM425 414h3v17h-3zM429 390h3v26h-3zM459 394h3v12h-3zM475 344h3v6h-3zM546 305h3v9h-3zM584 319h3v9h-3zM615 312h3v7h-3zM755 218h3v8h-3zM773 232h3v8h-3zM789 196h3v32h-3zM842 218h3v7h-3zM910 196h3v13h-3zM944 191h3v9h-3zM947 185h3v6h-3zM963 155h3v13h-3zM982 127h3v10h-3zM1016 106h3v10h-3zM1031 144h3v5h-3zM1050 135h3v23h-3zM1103 156h3v3h-3zM1106 152h3v4h-3z" fill="#727272" shape-rendering="crispEdges"/>
<path d="M13 475h3v8h-3zM47 522h3v16h-3zM58 512h3v14h-3zM73 535h3v7h-3zM100 610h3v3h-3zM104 600h3v10h-3zM108 598h3v5h-3zM115 588h3v10h-3zM119 583h3v5h-3zM123 563h3v20h-3zM134 580h3v6h-3zM138 559h3v20h-3zM153 530h3v10h-3zM157 526h3v5h-3zM168 546h3v4h-3zM176 543h3v1h-3zM179 540h3v3h-3zM187 535h3v13h-3zM191 513h3v22h-3zM195 509h3v5h-3zM198 509h3v4h-3zM202 496h3v15h-3zM210 508h3v5h-3zM217 514h3v4h-3zM221 503h3v10h-3zM259 492h3v18h-3zM297 551h3v8h-3zM308 555h3v4h-3zM316 530h3v23h-3zM342 497h3v10h-3zM346 477h3v21h-3zM350 467h3v11h-3zM369 493h3v6h-3zM376 429h3v9h-3zM388 429h3v5h-3zM403 422h3v10h-3zM422 432h3v18h-3zM437 392h3v4h-3zM467 355h3v36h-3zM471 350h3v5h-3zM497 372h3v4h-3zM501 358h3v14h-3zM505 342h3v22h-3zM520 350h3v6h-3zM535 351h3v18h-3zM539 340h3v12h-3zM543 313h3v20h-3zM550 302h3v4h-3zM558 308h3v16h-3zM588 297h3v22h-3zM592 290h3v8h-3zM603 310h3v17h-3zM626 321h3v3h-3zM637 330h3v2h-3zM649 329h3v7h-3zM664 324h3v8h-3zM667 320h3v2h-3zM671 315h3v5h-3zM675 308h3v12h-3zM694 316h3v12h-3zM709 325h3v3h-3zM713 228h3v72h-3zM717 219h3v10h-3zM728 220h3v12h-3zM743 219h3v9h-3zM770 239h3v7h-3zM777 228h3v5h-3zM792 186h3v10h-3zM804 183h3v6h-3zM811 192h3v6h-3zM834 232h3v6h-3zM838 226h3v7h-3zM845 214h3v6h-3zM849 208h3v5h-3zM853 205h3v3h-3zM857 198h3v8h-3zM864 159h3v32h-3zM872 155h3v7h-3zM879 150h3v8h-3zM891 159h3v5h-3zM917 191h3v7h-3zM925 170h3v25h-3zM932 159h3v15h-3zM951 172h3v20h-3zM955 168h3v4h-3zM959 167h3v5h-3zM966 146h3v9h-3zM974 142h3v4h-3zM978 136h3v4h-3zM985 120h3v6h-3zM989 94h3v28h-3zM993 91h3v3h-3zM1038 148h3v9h-3zM1053 123h3v8h-3zM1057 121h3v3h-3zM1065 128h3v4h-3zM1087 164h3v4h-3zM1095 169h3v7h-3zM1099 159h3v10h-3zM1110 143h3v4h-3zM1114 129h3v15h-3zM1125 178h3v7h-3z" fill="#000" shape-rendering="crispEdges"/>
<path d="M14 476h1v6h-1zM48 523h1v14h-1zM59 513h1v12h-1zM74 536h1v5h-1zM101 611h1v1h-1zM105 601h1v8h-1zM109 599h1v3h-1zM116 589h1v8h-1zM120 584h1v3h-1zM124 564h1v18h-1zM135 581h1v4h-1zM139 560h1v18h-1zM154 531h1v8h-1zM158 527h1v3h-1zM169 547h1v2h-1zM180 541h1v1h-1zM188 536h1v11h-1zM192 514h1v20h-1zM196 510h1v3h-1zM199 510h1v2h-1zM203 497h1v13h-1zM211 509h1v3h-1zM218 515h1v2h-1zM222 504h1v8h-1zM260 493h1v16h-1zM298 552h1v6h-1zM309 556h1v2h-1zM317 531h1v21h-1zM343 498h1v8h-1zM347 478h1v19h-1zM351 468h1v9h-1zM370 494h1v4h-1zM377 430h1v7h-1zM389 430h1v3h-1zM404 423h1v8h-1zM423 433h1v16h-1zM438 393h1v2h-1zM468 356h1v34h-1zM472 351h1v3h-1zM498 373h1v2h-1zM502 359h1v12h-1zM506 343h1v20h-1zM521 351h1v4h-1zM536 352h1v16h-1zM540 341h1v10h-1zM544 314h1v18h-1zM551 303h1v2h-1zM559 309h1v14h-1zM589 298h1v20h-1zM593 291h1v6h-1zM604 311h1v15h-1zM627 322h1v1h-1zM650 330h1v5h-1zM665 325h1v6h-1zM672 316h1v3h-1zM676 309h1v10h-1zM695 317h1v10h-1zM710 326h1v1h-1zM714 229h1v70h-1zM718 220h1v8h-1zM729 221h1v10h-1zM744 220h1v7h-1zM771 240h1v5h-1zM778 229h1v3h-1zM793 187h1v8h-1zM805 184h1v4h-1zM812 193h1v4h-1zM835 233h1v4h-1zM839 227h1v5h-1zM846 215h1v4h-1zM850 209h1v3h-1zM854 206h1v1h-1zM858 199h1v6h-1zM865 160h1v30h-1zM873 156h1v5h-1zM880 151h1v6h-1zM892 160h1v3h-1zM918 192h1v5h-1zM926 171h1v23h-1zM933 160h1v13h-1zM952 173h1v18h-1zM956 169h1v2h-1zM960 168h1v3h-1zM967 147h1v7h-1zM975 143h1v2h-1zM979 137h1v2h-1zM986 121h1v4h-1zM990 95h1v26h-1zM994 92h1v1h-1zM1039 149h1v7h-1zM1054 124h1v6h-1zM1058 122h1v1h-1zM1066 129h1v2h-1zM1088 165h1v2h-1zM1096 170h1v5h-1zM1100 160h1v8h-1zM1111 144h1v2h-1zM1115 130h1v13h-1zM1126 179h1v5h-1z" fill="#b4b4b4" shape-rendering="crispEdges"/>
<polyline points="3.2,684.9 5.1,691.9 8.2,703.9 10.8,709.0 13.9,713.4 18.4,719.1 22.2,719.8 26.0,726.1 29.8,719.1 33.6,721.7 37.4,724.2 40.5,723.6 45.0,726.7 48.8,716.6 53.2,718.5 55.7,717.8 60.2,709.6 64.0,702.6 67.1,703.9 70.9,717.8 75.4,714.4 79.8,722.9 86.2,729.6 91.2,722.3 94.4,723.6 98.2,728.6 101.4,727.4 105.8,721.7 109.0,720.4 113.4,718.5 116.6,714.7 120.4,709.6 124.8,698.8 128.6,703.3 132.4,709.0 135.6,705.8 139.4,695.0 143.2,698.2 147.0,684.3 150.7,686.2 154.5,683.6 158.3,681.7 162.1,683.0 165.9,693.1 170.3,691.9 175.4,690.6 179.8,689.3 184.3,693.1 188.1,685.5 192.5,676.7 195.7,675.2 200.1,675.2 203.5,669.7 207.3,680.5 210.9,679.2 215.3,685.5 218.5,685.5 222.3,677.9 226.1,681.7 230.5,684.9 234.3,678.6 237.5,673.5 241.3,678.6 245.7,689.3 248.9,688.7 252.7,687.4 256.5,690.6 260.3,679.2 264.1,688.7 268.5,700.1 271.7,700.7 275.5,705.8 279.3,713.4 283.1,719.1 286.9,712.8 290.7,717.8 293.8,717.8 298.2,701.4 302.0,703.3 305.8,704.5 309.6,702.6 313.4,702.6 317.2,688.1 321.0,686.8 324.8,678.6 329.3,678.2 333.1,680.5 336.9,682.0 340.7,678.2 343.8,674.4 347.6,667.8 351.4,662.1 355.2,676.7 358.4,672.2 362.2,679.2 366.0,686.2 369.8,684.9 374.3,665.3 378.1,663.4 381.9,665.3 384.4,666.5 388.8,664.6 392.6,657.7 396.4,662.1 400.9,676.0 404.7,672.2 408.5,673.5 412.3,682.4 416.1,685.5 419.2,686.8 423.0,680.5 426.8,673.5 430.6,666.8 434.4,669.7 437.5,668.4 442.0,672.9 447.0,673.5 450.2,676.0 453.4,679.2 457.2,678.2 461.0,673.1 464.8,675.2 467.9,660.2 471.1,657.7 476.2,657.0 480.0,657.7 483.1,660.0 486.9,658.3 490.7,669.7 494.5,682.4 498.3,681.1 502.1,674.8 506.0,668.4 509.8,672.2 513.6,676.7 517.4,679.0 521.8,675.2 525.6,676.7 529.4,683.6 532.6,690.6 535.7,684.3 540.2,676.7 544.0,665.9 547.8,663.4 550.9,661.5 554.7,676.7 558.5,671.6 563.0,667.8 566.8,672.2 570.6,676.0 574.4,680.5 577.5,679.8 582.0,688.1 585.7,681.1 589.5,674.1 593.3,671.4 597.1,671.6 600.3,693.8 604.1,686.8 607.9,686.6 612.3,690.0 616.1,690.0 619.9,688.7 623.1,693.8 626.9,692.5 631.3,697.2 635.1,699.5 638.9,697.6 642.7,699.7 645.9,701.0 649.7,696.7 653.5,696.3 657.3,694.4 661.1,697.6 664.9,690.0 668.7,687.4 671.9,684.3 676.3,679.0 680.7,679.0 684.5,679.2 688.3,689.3 691.5,688.7 695.3,687.4 699.1,699.5 702.9,698.2 706.7,700.5 710.5,698.8 713.0,664.0 714.9,648.2 718.1,648.2 721.9,648.2 725.7,658.3 729.4,656.4 733.2,660.8 737.0,661.5 740.8,663.4 745.9,660.5 751.6,660.2 754.8,661.5 757.9,667.2 761.7,672.9 765.5,678.2 768.7,681.1 771.9,680.5 775.7,676.0 778.8,674.4 782.6,675.2 785.8,676.0 789.0,662.1 791.5,657.7 794.0,656.4 797.8,658.3 801.0,659.2 804.8,657.4 808.6,671.0 811.8,668.4 815.6,671.6 818.8,680.5 821.3,688.1 825.7,693.1 828.9,698.2 831.4,703.9 835.2,698.8 839.0,694.4 842.8,690.6 846.6,686.8 850.4,683.0 854.2,681.1 858.0,676.7 861.8,674.1 865.6,659.6 869.4,660.2 873.2,658.3 877.0,660.8 880.8,658.7 884.6,667.8 888.4,671.6 892.8,668.4 896.0,669.3 899.8,668.4 903.6,684.3 907.4,707.1 911.2,699.5 914.3,700.1 918.1,695.0 921.9,696.9 925.7,683.0 929.5,685.5 933.3,678.6 937.1,678.2 941.6,702.0 945.4,696.9 949.2,698.2 952.4,686.8 956.2,685.3 960.0,684.3 963.8,678.6 967.6,674.8 971.4,675.4 975.2,673.1 979.0,670.3 982.8,667.2 986.6,664.0 990.4,655.1 994.5,653.2 997.6,657.6 1001.6,670.4 1005.0,677.2 1009.1,679.9 1013.1,682.6 1016.5,672.4 1019.9,678.5 1023.9,681.2 1028.6,699.5 1032.0,697.4 1036.1,702.8 1039.5,698.1 1043.5,698.1 1047.6,702.8 1050.9,691.4 1055.0,683.9 1058.4,683.5 1062.4,690.0 1066.5,688.6 1069.9,690.7 1074.6,686.6 1077.3,686.0 1081.4,696.8 1084.7,708.9 1088.1,708.2 1092.8,713.6 1096.9,706.2 1100.9,701.5 1105.0,699.5 1109.7,694.1 1115.1,683.2 1119.2,695.4 1123.2,710.9 1126.3,707.8" fill="none" stroke="#e04040" stroke-width="1.2" stroke-linejoin="round"/>
<path d="M2.5,781.2C3.4,781.2 5.9,780.9 7.6,781.2C9.3,781.5 10.8,782.1 12.7,783.1C14.6,784.1 16.9,785.8 19.0,787.5C21.1,789.2 23.2,791.5 25.3,793.2C27.4,794.9 29.6,796.0 31.7,797.6C33.8,799.2 35.9,801.1 38.0,802.7C40.1,804.3 42.2,805.8 44.3,807.1C46.4,808.4 48.6,809.3 50.7,810.3C52.8,811.2 54.9,812.3 57.0,812.8C59.1,813.3 61.2,813.1 63.3,813.2C65.4,813.3 67.6,813.2 69.7,813.2C71.8,813.2 74.3,813.2 76.0,813.2C77.7,813.2 78.1,813.0 79.8,813.5C81.5,814.0 84.1,815.1 86.2,816.0C88.3,816.9 90.4,817.8 92.5,818.6C94.6,819.5 96.7,820.3 98.8,821.1C100.9,821.9 103.3,822.8 105.2,823.4C107.1,824.0 108.3,824.5 110.2,824.6C112.1,824.8 114.7,824.6 116.6,824.3C118.5,824.0 119.9,823.5 121.6,823.0C123.3,822.5 124.8,822.0 126.7,821.1C128.6,820.2 130.9,819.0 133.0,817.9C135.1,816.8 137.5,815.9 139.4,814.7C141.3,813.6 142.6,812.2 144.4,811.0C146.2,809.8 148.3,809.0 150.1,807.7C151.9,806.4 153.4,804.7 155.1,803.3C156.8,801.9 158.5,800.8 160.2,799.5C161.9,798.2 163.6,796.8 165.3,795.7C167.0,794.6 168.6,793.9 170.3,793.1C172.0,792.4 173.7,791.7 175.4,791.2C177.1,790.7 178.8,790.4 180.5,790.0C182.2,789.6 183.8,789.5 185.5,789.1C187.2,788.7 188.9,788.0 190.6,787.4C192.3,786.8 194.0,786.2 195.7,785.5C197.4,784.8 199.0,783.7 200.7,783.0C202.4,782.3 204.1,781.7 205.8,781.1C207.5,780.5 209.2,779.9 210.9,779.5C212.6,779.1 214.3,778.9 216.0,778.6C217.7,778.3 219.3,778.0 221.0,777.7C222.7,777.4 224.4,777.1 226.1,776.9C227.8,776.7 229.5,776.9 231.2,776.7C232.9,776.6 234.5,776.1 236.2,776.0C237.9,775.9 239.6,775.8 241.3,775.8C243.0,775.8 244.7,775.9 246.4,776.0C248.1,776.1 249.7,776.2 251.4,776.4C253.1,776.6 254.8,777.1 256.5,777.3C258.2,777.5 259.9,777.6 261.6,777.7C263.3,777.8 264.9,777.5 266.6,777.7C268.3,777.9 270.0,778.4 271.7,779.0C273.4,779.6 275.1,780.7 276.8,781.5C278.5,782.3 280.1,783.1 281.8,784.0C283.5,784.9 285.5,785.9 286.9,786.8C288.3,787.7 288.6,788.3 290.0,789.3C291.4,790.2 293.4,791.5 295.1,792.5C296.8,793.5 298.4,794.3 300.1,795.0C301.8,795.7 303.5,796.2 305.2,796.7C306.9,797.2 308.6,797.9 310.3,798.0C312.0,798.1 313.6,797.9 315.3,797.6C317.0,797.3 318.7,796.9 320.4,796.3C322.1,795.7 323.8,794.6 325.5,793.8C327.2,793.0 328.8,792.4 330.5,791.6C332.2,790.9 333.9,790.0 335.6,789.3C337.3,788.5 339.0,787.9 340.7,787.1C342.4,786.3 344.0,785.3 345.7,784.5C347.4,783.7 349.1,783.1 350.8,782.4C352.5,781.7 354.2,781.2 355.9,780.5C357.6,779.8 359.2,778.9 360.9,778.2C362.6,777.5 364.3,776.9 366.0,776.4C367.7,775.9 369.4,775.8 371.1,775.2C372.8,774.7 374.5,773.8 376.2,773.1C377.9,772.4 379.5,771.8 381.2,771.0C382.9,770.2 384.6,769.2 386.3,768.4C388.0,767.5 389.7,766.7 391.4,765.9C393.1,765.1 394.7,764.2 396.4,763.4C398.1,762.5 399.8,761.4 401.5,760.8C403.2,760.2 404.9,759.9 406.6,759.6C408.3,759.3 409.9,759.1 411.6,759.2C413.3,759.4 415.0,760.0 416.7,760.5C418.4,761.0 420.1,761.6 421.8,762.1C423.5,762.6 425.1,763.2 426.8,763.4C428.5,763.6 430.2,763.5 431.9,763.4C433.6,763.2 435.6,762.7 437.0,762.5C438.4,762.3 438.8,762.2 440.1,762.1C441.5,762.0 443.4,762.0 445.1,762.1C446.8,762.2 448.5,762.4 450.2,762.7C451.9,763.0 453.6,763.5 455.3,763.8C457.0,764.1 458.6,764.2 460.3,764.3C462.0,764.4 463.7,764.5 465.4,764.3C467.1,764.1 468.8,763.5 470.5,763.0C472.2,762.5 473.8,761.7 475.5,761.2C477.2,760.7 478.9,760.4 480.6,760.2C482.3,760.0 484.0,760.2 485.7,760.0C487.4,759.8 489.0,759.2 490.7,759.2C492.4,759.2 494.1,759.7 495.8,760.0C497.5,760.3 499.2,760.9 500.9,761.2C502.6,761.6 504.3,761.9 506.0,762.1C507.7,762.4 509.3,762.4 511.0,762.7C512.7,763.0 514.4,763.5 516.1,763.8C517.8,764.1 519.5,764.2 521.2,764.6C522.9,765.0 524.5,765.5 526.2,765.9C527.9,766.3 529.6,766.8 531.3,767.2C533.0,767.6 534.7,767.8 536.4,768.1C538.1,768.4 539.7,768.8 541.4,768.8C543.1,768.8 544.8,768.3 546.5,768.1C548.2,767.9 549.9,767.8 551.6,767.6C553.3,767.4 554.9,767.1 556.6,766.8C558.3,766.5 560.0,766.1 561.7,765.9C563.4,765.7 565.3,765.7 566.8,765.5C568.3,765.3 569.1,764.5 570.6,764.6C572.1,764.7 573.9,765.5 575.6,765.9C577.3,766.3 579.1,766.5 580.7,766.8C582.3,767.1 583.5,767.6 585.1,767.8C586.7,768.0 588.4,768.0 590.1,768.1C591.8,768.2 593.5,767.9 595.2,768.1C596.9,768.3 598.6,768.7 600.3,769.1C602.0,769.5 603.6,769.9 605.3,770.3C607.0,770.7 608.7,771.2 610.4,771.6C612.1,772.0 613.8,772.5 615.5,772.9C617.2,773.3 618.8,773.7 620.5,774.1C622.2,774.5 623.9,774.9 625.6,775.4C627.3,775.9 629.0,776.7 630.7,777.3C632.4,777.9 634.0,778.6 635.7,779.2C637.4,779.8 639.1,780.5 640.8,781.1C642.5,781.7 644.2,782.4 645.9,783.0C647.6,783.6 649.2,784.4 650.9,784.9C652.6,785.4 654.3,785.9 656.0,786.2C657.7,786.5 659.4,786.6 661.1,786.8C662.8,787.0 664.5,787.4 666.2,787.4C667.9,787.4 669.5,787.0 671.2,786.8C672.9,786.6 674.6,786.4 676.3,786.2C678.0,786.0 679.7,785.6 681.4,785.5C683.1,785.4 684.7,785.3 686.4,785.3C688.1,785.3 689.8,785.3 691.5,785.3C693.2,785.3 694.9,785.4 696.6,785.5C698.3,785.6 699.9,785.7 701.6,785.8C703.3,785.9 705.2,786.0 706.7,786.2C708.2,786.4 709.2,787.3 710.5,786.8C711.8,786.3 713.0,784.2 714.3,783.0C715.6,781.8 716.8,780.8 718.1,779.8C719.4,778.8 720.6,777.7 721.9,776.7C723.2,775.8 724.3,775.3 725.7,774.1C727.1,772.9 728.5,771.1 730.1,769.7C731.7,768.3 733.4,767.0 735.1,765.9C736.8,764.8 738.5,764.0 740.2,763.4C741.9,762.8 743.6,762.5 745.3,762.1C747.0,761.7 748.6,761.6 750.3,761.2C752.0,760.9 753.9,760.4 755.4,760.0C756.9,759.6 757.7,758.9 759.2,758.9C760.7,758.9 762.6,759.6 764.3,760.0C766.0,760.4 767.6,760.9 769.3,761.5C771.0,762.1 772.7,762.9 774.4,763.4C776.1,763.9 777.8,764.2 779.5,764.6C781.2,765.0 782.8,765.6 784.5,765.9C786.2,766.2 787.9,766.3 789.6,766.3C791.3,766.3 793.0,766.0 794.7,765.9C796.4,765.8 798.0,765.6 799.7,765.5C801.4,765.4 803.1,765.1 804.8,765.0C806.5,764.9 808.2,764.6 809.9,764.6C811.6,764.6 813.3,764.7 815.0,765.0C816.7,765.3 818.3,765.8 820.0,766.3C821.7,766.8 823.4,767.4 825.1,768.1C826.8,768.8 828.5,769.6 830.2,770.3C831.9,771.0 833.5,771.6 835.2,772.2C836.9,772.8 838.6,773.4 840.3,774.1C842.0,774.8 843.7,775.7 845.4,776.4C847.1,777.1 848.7,777.8 850.4,778.2C852.1,778.6 853.8,778.5 855.5,778.6C857.2,778.7 858.9,779.1 860.6,779.0C862.3,778.9 863.9,778.3 865.6,777.9C867.3,777.5 869.1,777.0 870.7,776.4C872.3,775.8 873.5,775.1 875.1,774.4C876.7,773.7 878.4,772.9 880.1,772.2C881.8,771.5 883.5,770.8 885.2,770.3C886.9,769.8 888.6,769.5 890.3,769.3C892.0,769.1 893.6,769.1 895.3,769.1C897.0,769.1 898.7,768.9 900.4,769.1C902.1,769.3 903.8,769.6 905.5,770.1C907.2,770.6 908.8,771.2 910.5,771.9C912.2,772.6 913.9,773.4 915.6,774.1C917.3,774.9 919.0,775.7 920.7,776.4C922.4,777.1 924.0,777.7 925.7,778.2C927.4,778.7 929.1,779.0 930.8,779.2C932.5,779.4 934.2,779.3 935.9,779.5C937.6,779.7 939.2,779.9 940.9,780.2C942.6,780.5 944.3,780.7 946.0,781.1C947.7,781.5 949.4,782.1 951.1,782.4C952.8,782.7 954.5,782.8 956.2,782.8C957.9,782.8 959.5,782.6 961.2,782.4C962.9,782.2 964.6,782.0 966.3,781.7C968.0,781.4 969.7,781.1 971.4,780.7C973.1,780.3 974.7,779.8 976.4,779.2C978.1,778.6 979.8,778.0 981.5,777.3C983.2,776.6 984.9,775.9 986.6,775.2C988.3,774.5 989.9,773.7 991.6,772.9C993.3,772.1 995.0,771.4 996.7,770.6C998.4,769.9 1000.3,768.9 1001.8,768.4C1003.3,767.9 1004.1,767.8 1005.6,767.8C1007.1,767.8 1008.9,768.0 1010.6,768.1C1012.3,768.2 1014.1,768.1 1015.7,768.1C1017.3,768.1 1018.6,767.8 1020.3,768.0C1021.9,768.2 1024.0,769.1 1025.6,769.5C1027.2,769.9 1028.4,770.0 1029.8,770.5C1031.2,771.0 1032.6,772.0 1034.0,772.7C1035.4,773.4 1036.8,774.0 1038.2,774.6C1039.6,775.2 1041.0,775.9 1042.4,776.5C1043.8,777.1 1045.3,777.7 1046.7,778.3C1048.1,778.9 1049.5,779.6 1050.9,780.1C1052.3,780.6 1053.7,781.1 1055.1,781.4C1056.5,781.7 1057.9,781.6 1059.3,781.7C1060.7,781.8 1062.2,782.1 1063.6,782.2C1065.0,782.3 1066.4,782.4 1067.8,782.5C1069.2,782.6 1070.6,782.7 1072.0,782.8C1073.4,782.9 1074.8,782.9 1076.2,783.0C1077.6,783.1 1079.1,783.1 1080.5,783.2C1081.9,783.4 1083.3,783.5 1084.7,783.9C1086.1,784.3 1087.5,785.0 1088.9,785.6C1090.3,786.2 1091.7,786.8 1093.1,787.2C1094.5,787.7 1095.9,787.9 1097.3,788.3C1098.7,788.6 1100.2,788.9 1101.6,789.3C1103.0,789.7 1104.4,790.3 1105.8,790.6C1107.2,790.9 1108.6,791.1 1110.0,791.2C1111.4,791.3 1112.8,791.2 1114.2,791.2C1115.6,791.2 1117.1,790.9 1118.5,790.9C1119.9,790.9 1121.4,791.3 1122.7,791.5C1124.0,791.7 1125.8,792.2 1126.4,792.3" fill="none" stroke="#1a1a1a" stroke-width="1.1"/>
<path d="M2.5,776.1C3.4,776.8 5.9,778.7 7.6,780.5C9.3,782.3 11.0,784.8 12.7,786.9C14.4,789.0 16.0,790.9 17.7,793.2C19.4,795.5 20.9,798.5 22.8,800.8C24.7,803.1 27.0,805.2 29.1,807.1C31.2,809.0 33.4,810.7 35.5,812.2C37.6,813.7 39.7,814.9 41.8,816.0C43.9,817.1 46.2,818.1 48.1,818.6C50.0,819.1 51.5,819.1 53.2,818.8C54.9,818.5 56.6,817.4 58.3,816.7C60.0,816.0 61.6,815.6 63.3,814.8C65.0,814.0 66.7,812.2 68.4,812.0C70.1,811.8 71.8,812.9 73.5,813.5C75.2,814.1 76.9,814.4 78.6,815.4C80.3,816.4 81.9,818.4 83.6,819.8C85.3,821.2 87.0,822.8 88.7,823.6C90.4,824.5 92.1,824.3 93.8,824.9C95.5,825.5 97.1,826.8 98.8,827.4C100.5,828.0 102.2,828.5 103.9,828.5C105.6,828.5 107.3,828.0 109.0,827.4C110.7,826.8 112.3,826.0 114.0,825.1C115.7,824.2 117.4,823.0 119.1,821.7C120.8,820.4 122.5,818.7 124.2,817.3C125.9,815.9 127.5,814.5 129.2,813.5C130.9,812.5 132.6,812.1 134.3,811.0C136.0,809.9 137.7,808.4 139.4,807.1C141.1,805.8 142.6,805.0 144.4,803.3C146.2,801.6 148.3,798.9 150.1,797.0C151.9,795.1 153.5,793.4 155.1,791.9C156.7,790.4 157.9,788.7 159.6,788.1C161.3,787.5 163.5,788.2 165.3,788.1C167.1,788.0 168.6,787.5 170.3,787.4C172.0,787.3 173.7,787.5 175.4,787.4C177.1,787.3 178.8,787.1 180.5,786.8C182.2,786.5 183.8,786.1 185.5,785.5C187.2,784.9 188.9,783.8 190.6,783.0C192.3,782.2 194.0,781.5 195.7,780.5C197.4,779.5 199.2,778.2 200.7,777.3C202.2,776.4 202.8,775.6 204.5,775.2C206.2,774.9 208.8,775.2 210.9,775.2C213.0,775.2 215.1,775.2 217.2,775.2C219.3,775.2 221.5,775.2 223.6,775.2C225.7,775.2 227.8,775.3 229.9,775.2C232.0,775.1 234.1,774.5 236.2,774.4C238.3,774.3 240.5,774.1 242.6,774.4C244.7,774.7 246.8,775.5 248.9,776.0C251.0,776.5 253.1,776.9 255.2,777.3C257.3,777.7 259.7,778.1 261.6,778.6C263.5,779.1 264.9,779.8 266.6,780.5C268.3,781.2 270.0,781.9 271.7,783.0C273.4,784.1 275.1,785.8 276.8,787.4C278.5,789.0 280.1,790.9 281.8,792.5C283.5,794.1 285.5,795.8 286.9,797.0C288.3,798.2 288.6,798.7 290.0,799.5C291.4,800.3 293.4,801.8 295.1,802.0C296.8,802.2 298.4,800.9 300.1,800.7C301.8,800.5 303.5,800.8 305.2,800.7C306.9,800.6 308.6,800.5 310.3,800.1C312.0,799.7 313.6,799.1 315.3,798.2C317.0,797.4 318.7,796.4 320.4,795.0C322.1,793.6 323.8,791.4 325.5,790.0C327.2,788.6 328.8,787.9 330.5,786.8C332.2,785.7 333.9,784.5 335.6,783.6C337.3,782.7 339.0,782.2 340.7,781.1C342.4,780.0 344.0,778.6 345.7,777.3C347.4,776.0 349.1,774.5 350.8,773.5C352.5,772.5 354.2,772.0 355.9,771.4C357.6,770.8 359.2,770.1 360.9,770.1C362.6,770.1 364.5,771.0 366.0,771.6C367.5,772.2 368.3,774.2 369.8,773.5C371.3,772.8 373.2,768.9 374.9,767.2C376.6,765.5 378.1,764.6 380.0,763.4C381.9,762.2 384.4,761.3 386.3,760.2C388.2,759.1 389.7,758.0 391.4,757.0C393.1,756.0 394.7,754.7 396.4,754.5C398.1,754.3 399.8,755.3 401.5,755.8C403.2,756.3 404.9,756.9 406.6,757.4C408.3,757.9 409.9,758.1 411.6,758.9C413.3,759.7 415.0,761.0 416.7,762.1C418.4,763.2 420.3,764.7 421.8,765.3C423.3,765.9 424.1,766.2 425.6,765.9C427.1,765.6 428.9,764.1 430.6,763.4C432.3,762.7 434.1,762.1 435.7,761.7C437.3,761.3 438.5,760.8 440.1,760.8C441.7,760.8 443.4,761.2 445.1,761.5C446.8,761.8 448.5,762.1 450.2,762.7C451.9,763.3 453.6,764.7 455.3,765.3C457.0,765.9 458.8,766.2 460.3,766.5C461.8,766.8 462.8,767.2 464.1,766.8C465.4,766.4 466.4,765.1 467.9,764.0C469.4,762.9 471.3,761.3 473.0,760.2C474.7,759.1 476.4,757.9 478.1,757.4C479.8,756.9 481.4,757.1 483.1,757.0C484.8,756.9 486.7,756.5 488.2,756.7C489.7,756.9 490.7,757.6 492.0,758.3C493.3,759.0 494.3,759.9 495.8,760.8C497.3,761.6 499.2,762.9 500.9,763.4C502.6,763.9 504.3,763.9 506.0,764.0C507.7,764.1 509.3,764.1 511.0,764.3C512.7,764.5 514.4,764.9 516.1,765.3C517.8,765.7 519.5,766.3 521.2,766.8C522.9,767.3 524.5,767.6 526.2,768.4C527.9,769.2 529.6,770.9 531.3,771.6C533.0,772.3 534.7,772.6 536.4,772.6C538.1,772.6 539.9,772.2 541.4,771.6C542.9,771.0 543.7,770.2 545.2,769.1C546.7,768.0 548.6,765.8 550.3,765.3C552.0,764.8 553.7,766.0 555.4,765.9C557.1,765.8 558.7,765.0 560.4,764.6C562.1,764.2 564.0,763.6 565.5,763.4C567.0,763.2 567.8,763.1 569.3,763.4C570.8,763.7 572.7,764.6 574.4,765.3C576.1,766.0 577.6,766.8 579.4,767.8C581.2,768.8 583.3,770.7 585.1,771.0C586.9,771.3 588.4,770.1 590.1,769.7C591.8,769.3 593.5,768.2 595.2,768.4C596.9,768.6 598.6,770.2 600.3,771.0C602.0,771.8 603.6,772.3 605.3,772.9C607.0,773.5 608.7,774.2 610.4,774.8C612.1,775.4 613.8,776.2 615.5,776.7C617.2,777.2 618.8,777.5 620.5,777.9C622.2,778.3 623.9,778.6 625.6,779.2C627.3,779.8 629.0,780.9 630.7,781.7C632.4,782.6 634.0,783.5 635.7,784.3C637.4,785.0 639.1,785.7 640.8,786.2C642.5,786.7 644.2,787.1 645.9,787.4C647.6,787.7 649.2,788.0 650.9,788.1C652.6,788.2 654.3,788.3 656.0,788.3C657.7,788.3 659.4,788.3 661.1,788.3C662.8,788.3 664.5,788.2 666.2,788.1C667.9,788.0 669.5,788.1 671.2,787.8C672.9,787.5 674.6,786.7 676.3,786.2C678.0,785.7 679.7,785.2 681.4,784.9C683.1,784.6 684.7,784.6 686.4,784.5C688.1,784.4 689.8,784.4 691.5,784.5C693.2,784.6 694.9,784.8 696.6,784.9C698.3,785.0 699.9,785.1 701.6,785.3C703.3,785.5 705.2,785.9 706.7,786.2C708.2,786.6 709.2,788.6 710.5,787.4C711.8,786.2 713.0,781.8 714.3,779.2C715.6,776.6 716.8,773.7 718.1,771.6C719.4,769.5 720.6,768.0 721.9,766.5C723.2,765.0 724.3,764.0 725.7,762.7C727.1,761.4 728.5,759.9 730.1,758.9C731.7,757.9 733.4,757.4 735.1,757.0C736.8,756.6 738.5,756.8 740.2,756.7C741.9,756.6 743.6,756.5 745.3,756.4C747.0,756.3 748.6,756.3 750.3,756.4C752.0,756.5 753.7,756.4 755.4,756.7C757.1,757.0 758.8,757.5 760.5,758.3C762.2,759.1 763.8,760.3 765.5,761.5C767.2,762.7 768.9,764.3 770.6,765.3C772.3,766.2 774.0,766.7 775.7,767.2C777.4,767.7 779.0,768.0 780.7,768.4C782.4,768.8 784.1,769.9 785.8,769.7C787.5,769.5 789.2,767.9 790.9,767.2C792.6,766.5 794.3,765.9 796.0,765.3C797.7,764.7 799.3,764.1 801.0,763.8C802.7,763.5 804.4,763.3 806.1,763.4C807.8,763.5 809.5,764.2 811.2,764.6C812.9,765.0 814.5,764.9 816.2,765.5C817.9,766.1 819.6,767.2 821.3,768.4C823.0,769.6 824.7,771.4 826.4,772.9C828.1,774.4 829.7,776.0 831.4,777.3C833.1,778.6 834.8,779.6 836.5,780.5C838.2,781.4 839.9,782.1 841.6,782.4C843.3,782.7 844.9,782.5 846.6,782.4C848.3,782.3 850.0,782.3 851.7,782.0C853.4,781.7 855.1,781.1 856.8,780.5C858.5,779.9 860.1,779.4 861.8,778.2C863.5,777.0 865.2,774.9 866.9,773.5C868.6,772.1 870.6,770.5 872.0,769.7C873.4,768.9 873.8,769.3 875.1,768.8C876.5,768.3 878.4,767.2 880.1,766.8C881.8,766.4 883.5,766.5 885.2,766.5C886.9,766.5 888.6,766.6 890.3,766.8C892.0,767.0 893.6,767.5 895.3,767.8C897.0,768.1 898.9,768.0 900.4,768.4C901.9,768.8 902.9,769.2 904.2,770.3C905.5,771.4 906.5,773.4 908.0,774.8C909.5,776.2 911.4,777.5 913.1,778.6C914.8,779.7 916.4,780.4 918.1,781.1C919.8,781.8 921.5,782.8 923.2,783.0C924.9,783.2 926.6,782.7 928.3,782.4C930.0,782.1 931.8,781.5 933.3,781.1C934.8,780.7 935.8,779.7 937.1,779.8C938.4,779.9 939.5,781.0 941.0,781.7C942.5,782.5 944.5,783.7 946.0,784.3C947.5,784.9 948.3,785.3 949.8,785.3C951.3,785.3 953.2,784.9 954.9,784.5C956.6,784.1 958.3,783.6 960.0,782.8C961.7,782.0 963.3,780.7 965.0,779.8C966.7,778.9 968.4,778.0 970.1,777.3C971.8,776.6 973.5,776.1 975.2,775.4C976.9,774.7 978.5,773.9 980.2,773.1C981.9,772.3 983.6,771.7 985.3,770.6C987.0,769.5 988.7,767.6 990.4,766.5C992.1,765.4 993.7,764.4 995.4,763.8C997.1,763.2 999.0,762.8 1000.5,762.7C1002.0,762.6 1002.8,762.8 1004.3,763.4C1005.8,764.0 1007.7,765.5 1009.4,766.3C1011.1,767.1 1012.6,768.2 1014.4,768.4C1016.2,768.6 1018.6,767.6 1020.3,767.7C1022.0,767.8 1023.3,768.2 1024.5,769.1C1025.7,770.0 1026.5,771.8 1027.7,773.0C1028.9,774.2 1030.5,775.1 1031.9,776.1C1033.3,777.1 1034.7,778.4 1036.1,779.3C1037.5,780.2 1038.9,780.6 1040.3,781.4C1041.7,782.2 1043.2,783.3 1044.6,784.1C1046.0,784.9 1047.4,786.0 1048.8,786.2C1050.2,786.4 1051.6,785.5 1053.0,785.1C1054.4,784.8 1055.8,784.3 1057.2,784.1C1058.6,783.9 1060.1,784.0 1061.5,783.9C1062.9,783.8 1064.3,783.6 1065.7,783.5C1067.1,783.4 1068.5,783.2 1069.9,783.2C1071.3,783.2 1072.7,783.5 1074.1,783.5C1075.5,783.5 1076.9,782.9 1078.3,783.2C1079.7,783.6 1081.2,784.8 1082.6,785.6C1084.0,786.5 1085.4,787.3 1086.8,788.3C1088.2,789.3 1089.6,790.5 1091.0,791.5C1092.4,792.5 1093.8,794.0 1095.2,794.6C1096.6,795.2 1098.1,795.0 1099.5,795.1C1100.9,795.2 1102.3,795.3 1103.7,795.1C1105.1,794.9 1106.5,794.5 1107.9,794.1C1109.3,793.7 1110.7,793.0 1112.1,792.5C1113.5,792.0 1115.0,791.1 1116.4,790.9C1117.8,790.7 1119.4,791.1 1120.6,791.5C1121.8,791.9 1122.8,792.4 1123.8,793.0C1124.8,793.6 1126.0,794.7 1126.4,795.0" fill="none" stroke="#e03838" stroke-width="1.15"/>
<line x1="994.2" y1="653.2" x2="1142" y2="687.7" stroke="#222" stroke-width="1.3"/>
<line x1="1088.1" y1="714.3" x2="1129.7" y2="711.2" stroke="#111" stroke-width="1.3"/>
<rect x="918" y="113" width="30" height="23" fill="#cacaca"/>
<text x="918.3" y="134" fill="#1a7f74" style="font-size:22px">7</text>
<text x="930.9" y="131.2" fill="#1a7f74" style="font-size:16.5px;font-weight:bold">*</text>
<text x="941.1" y="131.2" fill="#1a7f74" style="font-size:16.5px;font-weight:bold">*</text>
<rect x="941" y="261" width="12.5" height="20" fill="#cacaca"/>
<text x="941.2" y="279.6" fill="#1a7f74" style="font-size:22px">7</text>
<rect x="936.5" y="396" width="13.3" height="20" fill="#cacaca"/>
<text x="937" y="414" fill="#700070" style="font-size:22px">5</text>
<rect x="901" y="234" width="14" height="16" fill="#cacaca"/>
<text x="902.5" y="248.6" fill="#e01010" style="font-size:22px">x</text>
<rect x="1087" y="191" width="15" height="20" fill="#cacaca"/>
<text x="1088" y="209" fill="#e01010" style="font-size:22px">Y</text>
<rect x="1108.5" y="94" width="11" height="20" fill="#cacaca"/>
<text x="1110.4" y="113" fill="#1a7f74" style="font-size:23px">f</text>
<g shape-rendering="crispEdges" stroke="#303030" stroke-width="1" fill="none">
<line x1="1142.5" y1="4" x2="1142.5" y2="829"/>
<line x1="1143" y1="632.5" x2="1179" y2="632.5"/>
<line x1="1143" y1="739.5" x2="1179" y2="739.5"/>
<line x1="2" y1="829.5" x2="1179" y2="829.5"/>
<path d="M1143 45.5h4M1143 98.5h4M1143 152.5h4M1143 205.5h4M1143 259.5h4M1143 312.5h4M1143 365.5h4M1143 419.5h4M1143 472.5h4M1143 525.5h4M1143 579.5h4M1143 642.5h2.5M1143 648.5h4.0M1143 654.5h2.5M1143 660.5h2.5M1143 665.5h2.5M1143 671.5h4.0M1143 677.5h2.5M1143 683.5h2.5M1143 688.5h2.5M1143 694.5h4.0M1143 700.5h2.5M1143 706.5h2.5M1143 711.5h2.5M1143 717.5h4.0M1143 723.5h2.5M1143 729.5h2.5M1143 734.5h2.5M1143 751.5h2.5M1143 757.5h4.0M1143 763.5h2.5M1143 769.5h2.5M1143 775.5h2.5M1143 781.5h4.0M1143 787.5h2.5M1143 793.5h2.5M1143 799.5h2.5M1143 805.5h4.0M1143 811.5h2.5M1143 817.5h2.5M3.5 830v2.5M14.5 830v5.5M33.5 830v5.5M52.5 830v5.5M71.5 830v5.5M90.5 830v5.5M109.5 830v5.5M127.5 830v5.5M146.5 830v5.5M165.5 830v5.5M184.5 830v5.5M203.5 830v5.5M222.5 830v5.5M241.5 830v5.5M260.5 830v5.5M279.5 830v5.5M298.5 830v5.5M317.5 830v5.5M336.5 830v5.5M355.5 830v5.5M373.5 830v5.5M392.5 830v5.5M411.5 830v5.5M430.5 830v5.5M449.5 830v5.5M468.5 830v5.5M487.5 830v5.5M506.5 830v5.5M525.5 830v5.5M544.5 830v5.5M563.5 830v5.5M582.5 830v5.5M600.5 830v5.5M619.5 830v5.5M638.5 830v5.5M657.5 830v5.5M676.5 830v5.5M695.5 830v5.5M714.5 830v5.5M733.5 830v5.5M752.5 830v5.5M771.5 830v5.5M790.5 830v5.5M809.5 830v5.5M828.5 830v5.5M846.5 830v5.5M865.5 830v5.5M884.5 830v5.5M903.5 830v5.5M922.5 830v5.5M941.5 830v5.5M960.5 830v5.5M979.5 830v5.5M998.5 830v5.5M1017.5 830v5.5M1036.5 830v5.5M1055.5 830v5.5M1073.5 830v5.5M1092.5 830v5.5M1111.5 830v5.5M1130.5 830v5.5M44.5 830v2M86.5 830v2M127.5 830v2M169.5 830v2M210.5 830v2M252.5 830v2M294.5 830v2M335.5 830v2M377.5 830v2M418.5 830v2M460.5 830v2M502.5 830v2M543.5 830v2M585.5 830v2M627.5 830v2M668.5 830v2M710.5 830v2M751.5 830v2M793.5 830v2M835.5 830v2M876.5 830v2M918.5 830v2M960.5 830v2M1001.5 830v2M1043.5 830v2M1084.5 830v2M1126.5 830v2"/>
</g>
<text x="1148.2" y="49.7" fill="#111" textLength="26.2" lengthAdjust="spacingAndGlyphs" style="font-size:11.5px">1580</text>
<text x="1148.2" y="103.1" fill="#111" textLength="26.2" lengthAdjust="spacingAndGlyphs" style="font-size:11.5px">1560</text>
<text x="1148.2" y="156.4" fill="#111" textLength="26.2" lengthAdjust="spacingAndGlyphs" style="font-size:11.5px">1540</text>
<text x="1148.2" y="209.8" fill="#111" textLength="26.2" lengthAdjust="spacingAndGlyphs" style="font-size:11.5px">1520</text>
<text x="1148.2" y="263.2" fill="#111" textLength="26.2" lengthAdjust="spacingAndGlyphs" style="font-size:11.5px">1500</text>
<text x="1148.2" y="316.5" fill="#111" textLength="26.2" lengthAdjust="spacingAndGlyphs" style="font-size:11.5px">1480</text>
<text x="1148.2" y="369.9" fill="#111" textLength="26.2" lengthAdjust="spacingAndGlyphs" style="font-size:11.5px">1460</text>
<text x="1148.2" y="423.3" fill="#111" textLength="26.2" lengthAdjust="spacingAndGlyphs" style="font-size:11.5px">1440</text>
<text x="1148.2" y="476.7" fill="#111" textLength="26.2" lengthAdjust="spacingAndGlyphs" style="font-size:11.5px">1420</text>
<text x="1148.2" y="530.0" fill="#111" textLength="26.2" lengthAdjust="spacingAndGlyphs" style="font-size:11.5px">1400</text>
<text x="1148.2" y="583.4" fill="#111" textLength="26.2" lengthAdjust="spacingAndGlyphs" style="font-size:11.5px">1380</text>
<text x="1148.1" y="652.9" fill="#111" textLength="12.6" lengthAdjust="spacingAndGlyphs" style="font-size:11.5px">80</text>
<text x="1148.1" y="675.8" fill="#111" textLength="12.6" lengthAdjust="spacingAndGlyphs" style="font-size:11.5px">65</text>
<text x="1148.1" y="698.7" fill="#111" textLength="12.6" lengthAdjust="spacingAndGlyphs" style="font-size:11.5px">50</text>
<text x="1148.1" y="720.6" fill="#111" textLength="12.6" lengthAdjust="spacingAndGlyphs" style="font-size:11.5px">35</text>
<text x="1151.3" y="762.1" fill="#111" textLength="12.3" lengthAdjust="spacingAndGlyphs" style="font-size:11.5px">10</text>
<text x="1151.3" y="785.7" fill="#111" textLength="6.2" lengthAdjust="spacingAndGlyphs" style="font-size:11.5px">2</text>
<text x="1146.6" y="810.3" fill="#111" textLength="12.1" lengthAdjust="spacingAndGlyphs" style="font-size:11.5px">-6</text>
<text x="15.5" y="843.0" fill="#111" textLength="28.6" lengthAdjust="spacingAndGlyphs" style="font-size:11px">11/08</text>
<text x="72.2" y="843.0" fill="#111" textLength="28.6" lengthAdjust="spacingAndGlyphs" style="font-size:11px">11/13</text>
<text x="129.0" y="843.0" fill="#111" textLength="28.6" lengthAdjust="spacingAndGlyphs" style="font-size:11px">11/16</text>
<text x="185.7" y="843.0" fill="#111" textLength="28.6" lengthAdjust="spacingAndGlyphs" style="font-size:11px">11/21</text>
<text x="242.5" y="843.0" fill="#111" textLength="28.6" lengthAdjust="spacingAndGlyphs" style="font-size:11px">11/26</text>
<text x="299.2" y="843.0" fill="#111" textLength="28.6" lengthAdjust="spacingAndGlyphs" style="font-size:11px">11/29</text>
<text x="356.0" y="843.0" fill="#111" textLength="28.6" lengthAdjust="spacingAndGlyphs" style="font-size:11px">12/04</text>
<text x="412.8" y="843.0" fill="#111" textLength="28.6" lengthAdjust="spacingAndGlyphs" style="font-size:11px">12/07</text>
<text x="469.5" y="843.0" fill="#111" textLength="28.6" lengthAdjust="spacingAndGlyphs" style="font-size:11px">12/12</text>
<text x="526.3" y="843.0" fill="#111" textLength="28.6" lengthAdjust="spacingAndGlyphs" style="font-size:11px">12/17</text>
<text x="583.0" y="843.0" fill="#111" textLength="28.6" lengthAdjust="spacingAndGlyphs" style="font-size:11px">12/20</text>
<text x="639.8" y="843.0" fill="#111" textLength="28.6" lengthAdjust="spacingAndGlyphs" style="font-size:11px">12/25</text>
<text x="696.6" y="843.0" fill="#111" textLength="28.6" lengthAdjust="spacingAndGlyphs" style="font-size:11px">12/28</text>
<text x="755.9" y="843.0" fill="#111" textLength="21.5" lengthAdjust="spacingAndGlyphs" style="font-size:11px">1/10</text>
<text x="812.6" y="843.0" fill="#111" textLength="21.5" lengthAdjust="spacingAndGlyphs" style="font-size:11px">1/15</text>
<text x="869.4" y="843.0" fill="#111" textLength="21.5" lengthAdjust="spacingAndGlyphs" style="font-size:11px">1/18</text>
<text x="926.2" y="843.0" fill="#111" textLength="21.5" lengthAdjust="spacingAndGlyphs" style="font-size:11px">1/23</text>
<text x="982.9" y="843.0" fill="#111" textLength="21.5" lengthAdjust="spacingAndGlyphs" style="font-size:11px">1/28</text>
<text x="1039.7" y="843.0" fill="#111" textLength="21.5" lengthAdjust="spacingAndGlyphs" style="font-size:11px">1/31</text>
<text x="1096.4" y="843.0" fill="#111" textLength="21.5" lengthAdjust="spacingAndGlyphs" style="font-size:11px">2/05</text>
<rect x="3" y="5" width="790" height="13" fill="#cacaca"/>
<text x="3.1" y="16.7" fill="#111" textLength="110.3" lengthAdjust="spacingAndGlyphs" style="font-size:11.5px">MICEX LAST-120 min</text>
<text x="122.7" y="16.7" fill="#111" textLength="59.0" lengthAdjust="spacingAndGlyphs" style="font-size:11.5px">02/06/2013</text>
<text x="188.1" y="16.7" fill="#2a9a2a" textLength="64.5" lengthAdjust="spacingAndGlyphs" style="font-size:11.5px">C=1530.380</text>
<text x="272.3" y="16.7" fill="#2a9a2a" textLength="64.2" lengthAdjust="spacingAndGlyphs" style="font-size:11.5px">O=1542.130</text>
<text x="342.8" y="16.7" fill="#111" textLength="65.0" lengthAdjust="spacingAndGlyphs" style="font-size:11.5px">H=1553.190</text>
<text x="413.4" y="16.7" fill="#111" textLength="63.5" lengthAdjust="spacingAndGlyphs" style="font-size:11.5px">L=1526.930</text>
<text x="482.9" y="16.7" fill="#111" textLength="46.3" lengthAdjust="spacingAndGlyphs" style="font-size:11.5px">V=16057</text>
<text x="534.8" y="16.7" fill="#111" textLength="89.8" lengthAdjust="spacingAndGlyphs" style="font-size:11.5px">ABillW_3LinesII2</text>
<text x="631.1" y="16.7" fill="#2525c8" textLength="48.5" lengthAdjust="spacingAndGlyphs" style="font-size:11.5px">1543.390</text>
<text x="686.4" y="16.7" fill="#e02020" textLength="48.9" lengthAdjust="spacingAndGlyphs" style="font-size:11.5px">1540.757</text>
<text x="741.7" y="16.7" fill="#30d030" textLength="49.4" lengthAdjust="spacingAndGlyphs" style="font-size:11.5px">1541.638</text>
<rect x="3" y="634" width="256" height="13" fill="#cacaca"/>
<text x="2.8" y="645.3" fill="#111" textLength="145.6" lengthAdjust="spacingAndGlyphs" style="font-size:11.2px">RSI(Close,14,20,80,red,red)</text>
<text x="155.6" y="645.3" fill="#e02020" textLength="29.3" lengthAdjust="spacingAndGlyphs" style="font-size:11.2px">40.55</text>
<text x="191.4" y="645.3" fill="#2525c8" textLength="29.2" lengthAdjust="spacingAndGlyphs" style="font-size:11.2px">20.00</text>
<text x="227.4" y="645.3" fill="#2525c8" textLength="29.1" lengthAdjust="spacingAndGlyphs" style="font-size:11.2px">80.00</text>
<rect x="3" y="741" width="180" height="13" fill="#cacaca"/>
<text x="2.8" y="751.6" fill="#111" textLength="78.5" lengthAdjust="spacingAndGlyphs" style="font-size:11.2px">MACD(12,26,9)</text>
<text x="86.9" y="751.6" fill="#e02020" textLength="27.2" lengthAdjust="spacingAndGlyphs" style="font-size:11.2px">-2.47</text>
<text x="120.2" y="751.6" fill="#111" textLength="27.4" lengthAdjust="spacingAndGlyphs" style="font-size:11.2px">-1.53</text>
<text x="153.1" y="751.6" fill="#2a9a2a" textLength="27.4" lengthAdjust="spacingAndGlyphs" style="font-size:11.2px">-0.94</text>
<rect x="0" y="847" width="1184" height="4" fill="#f1f1ed"/>
<rect x="0" y="851" width="1184" height="28" fill="#404040"/>
<rect x="3" y="848" width="14" height="2" fill="#dfe5f1"/>
<rect x="1152" y="848" width="26" height="2" fill="#d4dcee"/>
<text class="ft" x="10.2" y="869" fill="#e2e2e2" textLength="127.4" lengthAdjust="spacing" style="font-size:12px">Элитный Трейдер,</text>
<text class="ft" x="142.6" y="869" fill="#e2e2e2" textLength="116.6" lengthAdjust="spacing" style="font-size:12px">ELITETRADER.RU</text>
<defs><linearGradient id="og" x1="0" y1="0" x2="0" y2="1"><stop offset="0" stop-color="#f7c21a"/><stop offset="1" stop-color="#e2401a"/></linearGradient><linearGradient id="gg" x1="0" y1="0" x2="0" y2="1"><stop offset="0" stop-color="#b4e05a"/><stop offset="1" stop-color="#3f9a1a"/></linearGradient><linearGradient id="cg" x1="0" y1="0" x2="0" y2="1"><stop offset="0" stop-color="#a8cc3a"/><stop offset="0.5" stop-color="#f0a020"/><stop offset="1" stop-color="#e8601a"/></linearGradient></defs>
<rect x="1059.6" y="866.4" width="9" height="5.2" rx="0.8" fill="url(#og)"/>
<path d="M1062 863.6 L1069.3 855.1 L1076.6 863.6 L1072.4 863.6 L1072.4 869.5 Q1072.4 871.6 1070.3 871.6 L1067.5 871.6 L1067.5 863.6 Z" fill="url(#gg)"/>
<text x="1080.0" y="870.0" fill="#fafafa" textLength="24.4" lengthAdjust="spacingAndGlyphs" style="font-size:16px;font-weight:bold">clip</text>
<circle cx="1111.1" cy="864.7" r="7.9" fill="url(#cg)"/>
<text x="1111.1" y="870" fill="#fff" text-anchor="middle" style="font-size:14px;font-weight:bold">2</text>
<text x="1116.4" y="870.0" fill="#fafafa" textLength="24.7" lengthAdjust="spacingAndGlyphs" style="font-size:16px;font-weight:bold">net</text>
<text x="1140.7" y="870.0" fill="#9c9c9c" textLength="34.4" lengthAdjust="spacingAndGlyphs" style="font-size:16px;font-weight:bold">.com</text>
</svg></body></html>
